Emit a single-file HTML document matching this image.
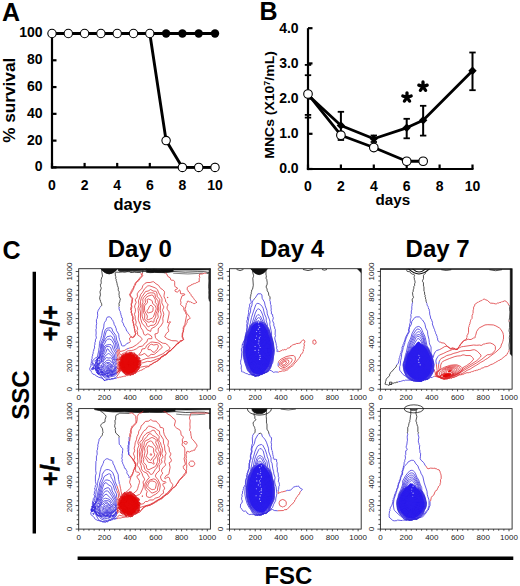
<!DOCTYPE html>
<html><head><meta charset="utf-8"><style>
html,body{margin:0;padding:0;background:#fff;}
svg{display:block;font-family:"Liberation Sans", sans-serif;}
</style></head><body>
<svg width="520" height="586" viewBox="0 0 520 586">
<text x="2" y="21.3" font-size="25" font-weight="bold">A</text>
<line x1="52.0" y1="33.0" x2="52.0" y2="168.5" stroke="#000" stroke-width="2.2"/>
<line x1="50.9" y1="167.4" x2="215.0" y2="167.4" stroke="#000" stroke-width="2.2"/>
<line x1="52.0" y1="167.40" x2="56.5" y2="167.40" stroke="#000" stroke-width="2.2"/>
<text x="42.6" y="171.30" font-size="14" font-weight="bold" text-anchor="end">0</text>
<line x1="52.0" y1="140.62" x2="56.5" y2="140.62" stroke="#000" stroke-width="2.2"/>
<text x="42.6" y="144.52" font-size="14" font-weight="bold" text-anchor="end">20</text>
<line x1="52.0" y1="113.84" x2="56.5" y2="113.84" stroke="#000" stroke-width="2.2"/>
<text x="42.6" y="117.74" font-size="14" font-weight="bold" text-anchor="end">40</text>
<line x1="52.0" y1="87.06" x2="56.5" y2="87.06" stroke="#000" stroke-width="2.2"/>
<text x="42.6" y="90.96" font-size="14" font-weight="bold" text-anchor="end">60</text>
<line x1="52.0" y1="60.28" x2="56.5" y2="60.28" stroke="#000" stroke-width="2.2"/>
<text x="42.6" y="64.18" font-size="14" font-weight="bold" text-anchor="end">80</text>
<line x1="52.0" y1="33.50" x2="56.5" y2="33.50" stroke="#000" stroke-width="2.2"/>
<text x="42.6" y="37.40" font-size="14" font-weight="bold" text-anchor="end">100</text>
<line x1="52.00" y1="167.4" x2="52.00" y2="162.9" stroke="#000" stroke-width="2.2"/>
<text x="52.00" y="190.3" font-size="14" font-weight="bold" text-anchor="middle">0</text>
<line x1="84.60" y1="167.4" x2="84.60" y2="162.9" stroke="#000" stroke-width="2.2"/>
<text x="84.60" y="190.3" font-size="14" font-weight="bold" text-anchor="middle">2</text>
<line x1="117.20" y1="167.4" x2="117.20" y2="162.9" stroke="#000" stroke-width="2.2"/>
<text x="117.20" y="190.3" font-size="14" font-weight="bold" text-anchor="middle">4</text>
<line x1="149.80" y1="167.4" x2="149.80" y2="162.9" stroke="#000" stroke-width="2.2"/>
<text x="149.80" y="190.3" font-size="14" font-weight="bold" text-anchor="middle">6</text>
<line x1="182.40" y1="167.4" x2="182.40" y2="162.9" stroke="#000" stroke-width="2.2"/>
<text x="182.40" y="190.3" font-size="14" font-weight="bold" text-anchor="middle">8</text>
<line x1="215.00" y1="167.4" x2="215.00" y2="162.9" stroke="#000" stroke-width="2.2"/>
<text x="215.00" y="190.3" font-size="14" font-weight="bold" text-anchor="middle">10</text>
<text x="132.3" y="210" font-size="16.5" font-weight="bold" text-anchor="middle">days</text>
<text transform="translate(15.2,100.3) rotate(-90)" font-size="17.2" font-weight="bold" text-anchor="middle">% survival</text>
<polyline points="52.0,33.5 215.0,33.5" fill="none" stroke="#000" stroke-width="2.9"/>
<polyline points="149.8,33.5 166.10000000000002,140.62 182.4,167.4 215.0,167.4" fill="none" stroke="#000" stroke-width="2.9" stroke-linejoin="round"/>
<circle cx="166.10" cy="33.50" r="4.2" fill="#000"/>
<circle cx="182.40" cy="33.50" r="4.2" fill="#000"/>
<circle cx="198.70" cy="33.50" r="4.2" fill="#000"/>
<circle cx="215.00" cy="33.50" r="4.2" fill="#000"/>
<circle cx="52.00" cy="33.50" r="4.2" fill="#fff" stroke="#000" stroke-width="1.1"/>
<circle cx="68.30" cy="33.50" r="4.2" fill="#fff" stroke="#000" stroke-width="1.1"/>
<circle cx="84.60" cy="33.50" r="4.2" fill="#fff" stroke="#000" stroke-width="1.1"/>
<circle cx="100.90" cy="33.50" r="4.2" fill="#fff" stroke="#000" stroke-width="1.1"/>
<circle cx="117.20" cy="33.50" r="4.2" fill="#fff" stroke="#000" stroke-width="1.1"/>
<circle cx="133.50" cy="33.50" r="4.2" fill="#fff" stroke="#000" stroke-width="1.1"/>
<circle cx="149.80" cy="33.50" r="4.2" fill="#fff" stroke="#000" stroke-width="1.1"/>
<circle cx="166.10" cy="140.62" r="4.2" fill="#fff" stroke="#000" stroke-width="1.1"/>
<circle cx="182.40" cy="167.40" r="4.2" fill="#fff" stroke="#000" stroke-width="1.1"/>
<circle cx="198.70" cy="167.40" r="4.2" fill="#fff" stroke="#000" stroke-width="1.1"/>
<circle cx="215.00" cy="167.40" r="4.2" fill="#fff" stroke="#000" stroke-width="1.1"/>
<text x="259.5" y="19.8" font-size="25" font-weight="bold">B</text>
<line x1="308.0" y1="28.19999999999999" x2="308.0" y2="170.1" stroke="#000" stroke-width="2.2"/>
<line x1="306.9" y1="169.0" x2="473.5" y2="169.0" stroke="#000" stroke-width="2.2"/>
<line x1="308.0" y1="169.00" x2="312.5" y2="169.00" stroke="#000" stroke-width="2.2"/>
<text x="298.6" y="173.30" font-size="14" font-weight="bold" text-anchor="end">0.0</text>
<line x1="308.0" y1="133.80" x2="312.5" y2="133.80" stroke="#000" stroke-width="2.2"/>
<text x="298.6" y="138.10" font-size="14" font-weight="bold" text-anchor="end">1.0</text>
<line x1="308.0" y1="98.60" x2="312.5" y2="98.60" stroke="#000" stroke-width="2.2"/>
<text x="298.6" y="102.90" font-size="14" font-weight="bold" text-anchor="end">2.0</text>
<line x1="308.0" y1="63.40" x2="312.5" y2="63.40" stroke="#000" stroke-width="2.2"/>
<text x="298.6" y="67.70" font-size="14" font-weight="bold" text-anchor="end">3.0</text>
<line x1="308.0" y1="28.20" x2="312.5" y2="28.20" stroke="#000" stroke-width="2.2"/>
<text x="298.6" y="32.50" font-size="14" font-weight="bold" text-anchor="end">4.0</text>
<line x1="308.00" y1="169.0" x2="308.00" y2="164.5" stroke="#000" stroke-width="2.2"/>
<text x="308.00" y="191.3" font-size="14" font-weight="bold" text-anchor="middle">0</text>
<line x1="340.90" y1="169.0" x2="340.90" y2="164.5" stroke="#000" stroke-width="2.2"/>
<text x="340.90" y="191.3" font-size="14" font-weight="bold" text-anchor="middle">2</text>
<line x1="373.80" y1="169.0" x2="373.80" y2="164.5" stroke="#000" stroke-width="2.2"/>
<text x="373.80" y="191.3" font-size="14" font-weight="bold" text-anchor="middle">4</text>
<line x1="406.70" y1="169.0" x2="406.70" y2="164.5" stroke="#000" stroke-width="2.2"/>
<text x="406.70" y="191.3" font-size="14" font-weight="bold" text-anchor="middle">6</text>
<line x1="439.60" y1="169.0" x2="439.60" y2="164.5" stroke="#000" stroke-width="2.2"/>
<text x="439.60" y="191.3" font-size="14" font-weight="bold" text-anchor="middle">8</text>
<line x1="472.50" y1="169.0" x2="472.50" y2="164.5" stroke="#000" stroke-width="2.2"/>
<text x="472.50" y="191.3" font-size="14" font-weight="bold" text-anchor="middle">10</text>
<text x="392.8" y="204.8" font-size="15.2" font-weight="bold" text-anchor="middle">days</text>
<text transform="translate(274.3,104.9) rotate(-90)" font-size="13.3" font-weight="bold" text-anchor="middle" textLength="107.5" lengthAdjust="spacingAndGlyphs">MNCs (X10<tspan dy="-4.5" font-size="8.5">7</tspan><tspan dy="4.5">/mL)</tspan></text>
<line x1="308.00" y1="64.9" x2="308.00" y2="117.6" stroke="#000" stroke-width="2"/>
<line x1="304.80" y1="64.9" x2="311.20" y2="64.9" stroke="#000" stroke-width="1.8"/>
<line x1="304.80" y1="117.6" x2="311.20" y2="117.6" stroke="#000" stroke-width="1.8"/>
<line x1="308.00" y1="75.2" x2="308.00" y2="114.9" stroke="#000" stroke-width="2"/>
<line x1="304.80" y1="75.2" x2="311.20" y2="75.2" stroke="#000" stroke-width="1.8"/>
<line x1="304.80" y1="114.9" x2="311.20" y2="114.9" stroke="#000" stroke-width="1.8"/>
<line x1="340.90" y1="111.8" x2="340.90" y2="140" stroke="#000" stroke-width="2"/>
<line x1="337.70" y1="111.8" x2="344.10" y2="111.8" stroke="#000" stroke-width="1.8"/>
<line x1="337.70" y1="140" x2="344.10" y2="140" stroke="#000" stroke-width="1.8"/>
<line x1="373.80" y1="135.5" x2="373.80" y2="142" stroke="#000" stroke-width="2"/>
<line x1="370.60" y1="135.5" x2="377.00" y2="135.5" stroke="#000" stroke-width="1.8"/>
<line x1="370.60" y1="142" x2="377.00" y2="142" stroke="#000" stroke-width="1.8"/>
<line x1="406.70" y1="118.8" x2="406.70" y2="138.3" stroke="#000" stroke-width="2"/>
<line x1="403.50" y1="118.8" x2="409.90" y2="118.8" stroke="#000" stroke-width="1.8"/>
<line x1="403.50" y1="138.3" x2="409.90" y2="138.3" stroke="#000" stroke-width="1.8"/>
<line x1="423.15" y1="105.8" x2="423.15" y2="135.6" stroke="#000" stroke-width="2"/>
<line x1="419.95" y1="105.8" x2="426.35" y2="105.8" stroke="#000" stroke-width="1.8"/>
<line x1="419.95" y1="135.6" x2="426.35" y2="135.6" stroke="#000" stroke-width="1.8"/>
<line x1="472.50" y1="52.5" x2="472.50" y2="90.2" stroke="#000" stroke-width="2"/>
<line x1="469.30" y1="52.5" x2="475.70" y2="52.5" stroke="#000" stroke-width="1.8"/>
<line x1="469.30" y1="90.2" x2="475.70" y2="90.2" stroke="#000" stroke-width="1.8"/>
<polyline points="308.00,95.08 340.90,125.49 373.80,138.73 406.70,127.82 423.15,120.21 472.50,70.79" fill="none" stroke="#000" stroke-width="2.8" stroke-linejoin="round"/>
<polyline points="308.00,94.02 340.90,135.21 373.80,147.53 406.70,161.26 423.15,161.26" fill="none" stroke="#000" stroke-width="2.8" stroke-linejoin="round"/>
<polygon points="308.00,90.88 312.20,95.08 308.00,99.28 303.80,95.08" fill="#000"/>
<polygon points="340.90,121.29 345.10,125.49 340.90,129.69 336.70,125.49" fill="#000"/>
<polygon points="373.80,134.53 378.00,138.73 373.80,142.93 369.60,138.73" fill="#000"/>
<polygon points="406.70,123.62 410.90,127.82 406.70,132.02 402.50,127.82" fill="#000"/>
<polygon points="423.15,116.01 427.35,120.21 423.15,124.41 418.95,120.21" fill="#000"/>
<polygon points="472.50,66.59 476.70,70.79 472.50,74.99 468.30,70.79" fill="#000"/>
<circle cx="308.00" cy="94.02" r="4.3" fill="#fff" stroke="#000" stroke-width="1.1"/>
<circle cx="340.90" cy="135.21" r="4.3" fill="#fff" stroke="#000" stroke-width="1.1"/>
<circle cx="373.80" cy="147.53" r="4.3" fill="#fff" stroke="#000" stroke-width="1.1"/>
<circle cx="406.70" cy="161.26" r="4.3" fill="#fff" stroke="#000" stroke-width="1.1"/>
<circle cx="423.15" cy="161.26" r="4.3" fill="#fff" stroke="#000" stroke-width="1.1"/>
<path d="M407.00 97.40L407.00 92.80 M407.00 97.40L411.18 95.98 M407.00 97.40L409.59 101.12 M407.00 97.40L404.41 101.12 M407.00 97.40L402.82 95.98" stroke="#000" stroke-width="3.3" stroke-linecap="round"/>
<path d="M423.00 86.60L423.00 82.00 M423.00 86.60L427.18 85.18 M423.00 86.60L425.59 90.32 M423.00 86.60L420.41 90.32 M423.00 86.60L418.82 85.18" stroke="#000" stroke-width="3.3" stroke-linecap="round"/>
<text x="2.6" y="258.6" font-size="25" font-weight="bold">C</text>
<text x="139.8" y="257.0" font-size="24" font-weight="bold" text-anchor="middle">Day 0</text>
<text x="292.0" y="257.0" font-size="24" font-weight="bold" text-anchor="middle">Day 4</text>
<text x="437.6" y="257.0" font-size="24" font-weight="bold" text-anchor="middle">Day 7</text>
<line x1="34.3" y1="271.8" x2="34.3" y2="533.5" stroke="#000" stroke-width="3.4"/>
<line x1="77.6" y1="558.3" x2="513.3" y2="558.3" stroke="#000" stroke-width="3.6"/>
<text x="288.4" y="583.7" font-size="24" font-weight="bold" text-anchor="middle">FSC</text>
<text transform="translate(29.2,395) rotate(-90)" font-size="24" font-weight="bold" text-anchor="middle">SSC</text>
<text transform="translate(59.2,323.1) rotate(-90)" font-size="25" font-weight="bold" text-anchor="middle" stroke="#000" stroke-width="0.5">+/+</text>
<text transform="translate(59.0,471) rotate(-90)" font-size="25" font-weight="bold" text-anchor="middle" stroke="#000" stroke-width="0.5">+/-</text>
<rect x="78.7" y="268.7" width="131.7" height="120.5" fill="none" stroke="#222" stroke-width="0.9"/>
<line x1="78.70" y1="389.2" x2="78.70" y2="391.4" stroke="#222" stroke-width="0.8"/>
<line x1="83.84" y1="389.2" x2="83.84" y2="390.8" stroke="#222" stroke-width="0.8"/>
<line x1="88.99" y1="389.2" x2="88.99" y2="390.8" stroke="#222" stroke-width="0.8"/>
<line x1="94.13" y1="389.2" x2="94.13" y2="390.8" stroke="#222" stroke-width="0.8"/>
<line x1="99.28" y1="389.2" x2="99.28" y2="390.8" stroke="#222" stroke-width="0.8"/>
<line x1="104.42" y1="389.2" x2="104.42" y2="391.4" stroke="#222" stroke-width="0.8"/>
<line x1="109.57" y1="389.2" x2="109.57" y2="390.8" stroke="#222" stroke-width="0.8"/>
<line x1="114.71" y1="389.2" x2="114.71" y2="390.8" stroke="#222" stroke-width="0.8"/>
<line x1="119.86" y1="389.2" x2="119.86" y2="390.8" stroke="#222" stroke-width="0.8"/>
<line x1="125.00" y1="389.2" x2="125.00" y2="390.8" stroke="#222" stroke-width="0.8"/>
<line x1="130.15" y1="389.2" x2="130.15" y2="391.4" stroke="#222" stroke-width="0.8"/>
<line x1="135.29" y1="389.2" x2="135.29" y2="390.8" stroke="#222" stroke-width="0.8"/>
<line x1="140.43" y1="389.2" x2="140.43" y2="390.8" stroke="#222" stroke-width="0.8"/>
<line x1="145.58" y1="389.2" x2="145.58" y2="390.8" stroke="#222" stroke-width="0.8"/>
<line x1="150.72" y1="389.2" x2="150.72" y2="390.8" stroke="#222" stroke-width="0.8"/>
<line x1="155.87" y1="389.2" x2="155.87" y2="391.4" stroke="#222" stroke-width="0.8"/>
<line x1="161.01" y1="389.2" x2="161.01" y2="390.8" stroke="#222" stroke-width="0.8"/>
<line x1="166.16" y1="389.2" x2="166.16" y2="390.8" stroke="#222" stroke-width="0.8"/>
<line x1="171.30" y1="389.2" x2="171.30" y2="390.8" stroke="#222" stroke-width="0.8"/>
<line x1="176.45" y1="389.2" x2="176.45" y2="390.8" stroke="#222" stroke-width="0.8"/>
<line x1="181.59" y1="389.2" x2="181.59" y2="391.4" stroke="#222" stroke-width="0.8"/>
<line x1="186.74" y1="389.2" x2="186.74" y2="390.8" stroke="#222" stroke-width="0.8"/>
<line x1="191.88" y1="389.2" x2="191.88" y2="390.8" stroke="#222" stroke-width="0.8"/>
<line x1="197.02" y1="389.2" x2="197.02" y2="390.8" stroke="#222" stroke-width="0.8"/>
<line x1="202.17" y1="389.2" x2="202.17" y2="390.8" stroke="#222" stroke-width="0.8"/>
<line x1="207.31" y1="389.2" x2="207.31" y2="391.4" stroke="#222" stroke-width="0.8"/>
<line x1="78.7" y1="389.20" x2="75.7" y2="389.20" stroke="#222" stroke-width="0.8"/>
<line x1="78.7" y1="384.49" x2="76.7" y2="384.49" stroke="#222" stroke-width="0.8"/>
<line x1="78.7" y1="379.79" x2="76.7" y2="379.79" stroke="#222" stroke-width="0.8"/>
<line x1="78.7" y1="375.08" x2="76.7" y2="375.08" stroke="#222" stroke-width="0.8"/>
<line x1="78.7" y1="370.37" x2="76.7" y2="370.37" stroke="#222" stroke-width="0.8"/>
<line x1="78.7" y1="365.66" x2="75.7" y2="365.66" stroke="#222" stroke-width="0.8"/>
<line x1="78.7" y1="360.96" x2="76.7" y2="360.96" stroke="#222" stroke-width="0.8"/>
<line x1="78.7" y1="356.25" x2="76.7" y2="356.25" stroke="#222" stroke-width="0.8"/>
<line x1="78.7" y1="351.54" x2="76.7" y2="351.54" stroke="#222" stroke-width="0.8"/>
<line x1="78.7" y1="346.84" x2="76.7" y2="346.84" stroke="#222" stroke-width="0.8"/>
<line x1="78.7" y1="342.13" x2="75.7" y2="342.13" stroke="#222" stroke-width="0.8"/>
<line x1="78.7" y1="337.42" x2="76.7" y2="337.42" stroke="#222" stroke-width="0.8"/>
<line x1="78.7" y1="332.72" x2="76.7" y2="332.72" stroke="#222" stroke-width="0.8"/>
<line x1="78.7" y1="328.01" x2="76.7" y2="328.01" stroke="#222" stroke-width="0.8"/>
<line x1="78.7" y1="323.30" x2="76.7" y2="323.30" stroke="#222" stroke-width="0.8"/>
<line x1="78.7" y1="318.59" x2="75.7" y2="318.59" stroke="#222" stroke-width="0.8"/>
<line x1="78.7" y1="313.89" x2="76.7" y2="313.89" stroke="#222" stroke-width="0.8"/>
<line x1="78.7" y1="309.18" x2="76.7" y2="309.18" stroke="#222" stroke-width="0.8"/>
<line x1="78.7" y1="304.47" x2="76.7" y2="304.47" stroke="#222" stroke-width="0.8"/>
<line x1="78.7" y1="299.77" x2="76.7" y2="299.77" stroke="#222" stroke-width="0.8"/>
<line x1="78.7" y1="295.06" x2="75.7" y2="295.06" stroke="#222" stroke-width="0.8"/>
<line x1="78.7" y1="290.35" x2="76.7" y2="290.35" stroke="#222" stroke-width="0.8"/>
<line x1="78.7" y1="285.65" x2="76.7" y2="285.65" stroke="#222" stroke-width="0.8"/>
<line x1="78.7" y1="280.94" x2="76.7" y2="280.94" stroke="#222" stroke-width="0.8"/>
<line x1="78.7" y1="276.23" x2="76.7" y2="276.23" stroke="#222" stroke-width="0.8"/>
<line x1="78.7" y1="271.52" x2="75.7" y2="271.52" stroke="#222" stroke-width="0.8"/>
<text x="78.70" y="400.40" font-size="8" fill="#222" text-anchor="middle">0</text>
<text transform="translate(71.90,389.20) rotate(-90)" font-size="8" fill="#222" text-anchor="middle">0</text>
<text x="104.42" y="400.40" font-size="8" fill="#222" text-anchor="middle">200</text>
<text transform="translate(71.90,365.66) rotate(-90)" font-size="8" fill="#222" text-anchor="middle">200</text>
<text x="130.15" y="400.40" font-size="8" fill="#222" text-anchor="middle">400</text>
<text transform="translate(71.90,342.13) rotate(-90)" font-size="8" fill="#222" text-anchor="middle">400</text>
<text x="155.87" y="400.40" font-size="8" fill="#222" text-anchor="middle">600</text>
<text transform="translate(71.90,318.59) rotate(-90)" font-size="8" fill="#222" text-anchor="middle">600</text>
<text x="181.59" y="400.40" font-size="8" fill="#222" text-anchor="middle">800</text>
<text transform="translate(71.90,295.06) rotate(-90)" font-size="8" fill="#222" text-anchor="middle">800</text>
<text x="207.31" y="400.40" font-size="8" fill="#222" text-anchor="middle">1000</text>
<text transform="translate(71.90,271.52) rotate(-90)" font-size="8" fill="#222" text-anchor="middle">1000</text>
<rect x="229.5" y="268.7" width="131.7" height="120.5" fill="none" stroke="#222" stroke-width="0.9"/>
<line x1="229.50" y1="389.2" x2="229.50" y2="391.4" stroke="#222" stroke-width="0.8"/>
<line x1="234.64" y1="389.2" x2="234.64" y2="390.8" stroke="#222" stroke-width="0.8"/>
<line x1="239.79" y1="389.2" x2="239.79" y2="390.8" stroke="#222" stroke-width="0.8"/>
<line x1="244.93" y1="389.2" x2="244.93" y2="390.8" stroke="#222" stroke-width="0.8"/>
<line x1="250.08" y1="389.2" x2="250.08" y2="390.8" stroke="#222" stroke-width="0.8"/>
<line x1="255.22" y1="389.2" x2="255.22" y2="391.4" stroke="#222" stroke-width="0.8"/>
<line x1="260.37" y1="389.2" x2="260.37" y2="390.8" stroke="#222" stroke-width="0.8"/>
<line x1="265.51" y1="389.2" x2="265.51" y2="390.8" stroke="#222" stroke-width="0.8"/>
<line x1="270.66" y1="389.2" x2="270.66" y2="390.8" stroke="#222" stroke-width="0.8"/>
<line x1="275.80" y1="389.2" x2="275.80" y2="390.8" stroke="#222" stroke-width="0.8"/>
<line x1="280.95" y1="389.2" x2="280.95" y2="391.4" stroke="#222" stroke-width="0.8"/>
<line x1="286.09" y1="389.2" x2="286.09" y2="390.8" stroke="#222" stroke-width="0.8"/>
<line x1="291.23" y1="389.2" x2="291.23" y2="390.8" stroke="#222" stroke-width="0.8"/>
<line x1="296.38" y1="389.2" x2="296.38" y2="390.8" stroke="#222" stroke-width="0.8"/>
<line x1="301.52" y1="389.2" x2="301.52" y2="390.8" stroke="#222" stroke-width="0.8"/>
<line x1="306.67" y1="389.2" x2="306.67" y2="391.4" stroke="#222" stroke-width="0.8"/>
<line x1="311.81" y1="389.2" x2="311.81" y2="390.8" stroke="#222" stroke-width="0.8"/>
<line x1="316.96" y1="389.2" x2="316.96" y2="390.8" stroke="#222" stroke-width="0.8"/>
<line x1="322.10" y1="389.2" x2="322.10" y2="390.8" stroke="#222" stroke-width="0.8"/>
<line x1="327.25" y1="389.2" x2="327.25" y2="390.8" stroke="#222" stroke-width="0.8"/>
<line x1="332.39" y1="389.2" x2="332.39" y2="391.4" stroke="#222" stroke-width="0.8"/>
<line x1="337.54" y1="389.2" x2="337.54" y2="390.8" stroke="#222" stroke-width="0.8"/>
<line x1="342.68" y1="389.2" x2="342.68" y2="390.8" stroke="#222" stroke-width="0.8"/>
<line x1="347.82" y1="389.2" x2="347.82" y2="390.8" stroke="#222" stroke-width="0.8"/>
<line x1="352.97" y1="389.2" x2="352.97" y2="390.8" stroke="#222" stroke-width="0.8"/>
<line x1="358.11" y1="389.2" x2="358.11" y2="391.4" stroke="#222" stroke-width="0.8"/>
<line x1="229.5" y1="389.20" x2="226.5" y2="389.20" stroke="#222" stroke-width="0.8"/>
<line x1="229.5" y1="384.49" x2="227.5" y2="384.49" stroke="#222" stroke-width="0.8"/>
<line x1="229.5" y1="379.79" x2="227.5" y2="379.79" stroke="#222" stroke-width="0.8"/>
<line x1="229.5" y1="375.08" x2="227.5" y2="375.08" stroke="#222" stroke-width="0.8"/>
<line x1="229.5" y1="370.37" x2="227.5" y2="370.37" stroke="#222" stroke-width="0.8"/>
<line x1="229.5" y1="365.66" x2="226.5" y2="365.66" stroke="#222" stroke-width="0.8"/>
<line x1="229.5" y1="360.96" x2="227.5" y2="360.96" stroke="#222" stroke-width="0.8"/>
<line x1="229.5" y1="356.25" x2="227.5" y2="356.25" stroke="#222" stroke-width="0.8"/>
<line x1="229.5" y1="351.54" x2="227.5" y2="351.54" stroke="#222" stroke-width="0.8"/>
<line x1="229.5" y1="346.84" x2="227.5" y2="346.84" stroke="#222" stroke-width="0.8"/>
<line x1="229.5" y1="342.13" x2="226.5" y2="342.13" stroke="#222" stroke-width="0.8"/>
<line x1="229.5" y1="337.42" x2="227.5" y2="337.42" stroke="#222" stroke-width="0.8"/>
<line x1="229.5" y1="332.72" x2="227.5" y2="332.72" stroke="#222" stroke-width="0.8"/>
<line x1="229.5" y1="328.01" x2="227.5" y2="328.01" stroke="#222" stroke-width="0.8"/>
<line x1="229.5" y1="323.30" x2="227.5" y2="323.30" stroke="#222" stroke-width="0.8"/>
<line x1="229.5" y1="318.59" x2="226.5" y2="318.59" stroke="#222" stroke-width="0.8"/>
<line x1="229.5" y1="313.89" x2="227.5" y2="313.89" stroke="#222" stroke-width="0.8"/>
<line x1="229.5" y1="309.18" x2="227.5" y2="309.18" stroke="#222" stroke-width="0.8"/>
<line x1="229.5" y1="304.47" x2="227.5" y2="304.47" stroke="#222" stroke-width="0.8"/>
<line x1="229.5" y1="299.77" x2="227.5" y2="299.77" stroke="#222" stroke-width="0.8"/>
<line x1="229.5" y1="295.06" x2="226.5" y2="295.06" stroke="#222" stroke-width="0.8"/>
<line x1="229.5" y1="290.35" x2="227.5" y2="290.35" stroke="#222" stroke-width="0.8"/>
<line x1="229.5" y1="285.65" x2="227.5" y2="285.65" stroke="#222" stroke-width="0.8"/>
<line x1="229.5" y1="280.94" x2="227.5" y2="280.94" stroke="#222" stroke-width="0.8"/>
<line x1="229.5" y1="276.23" x2="227.5" y2="276.23" stroke="#222" stroke-width="0.8"/>
<line x1="229.5" y1="271.52" x2="226.5" y2="271.52" stroke="#222" stroke-width="0.8"/>
<text x="229.50" y="400.40" font-size="8" fill="#222" text-anchor="middle">0</text>
<text transform="translate(222.70,389.20) rotate(-90)" font-size="8" fill="#222" text-anchor="middle">0</text>
<text x="255.22" y="400.40" font-size="8" fill="#222" text-anchor="middle">200</text>
<text transform="translate(222.70,365.66) rotate(-90)" font-size="8" fill="#222" text-anchor="middle">200</text>
<text x="280.95" y="400.40" font-size="8" fill="#222" text-anchor="middle">400</text>
<text transform="translate(222.70,342.13) rotate(-90)" font-size="8" fill="#222" text-anchor="middle">400</text>
<text x="306.67" y="400.40" font-size="8" fill="#222" text-anchor="middle">600</text>
<text transform="translate(222.70,318.59) rotate(-90)" font-size="8" fill="#222" text-anchor="middle">600</text>
<text x="332.39" y="400.40" font-size="8" fill="#222" text-anchor="middle">800</text>
<text transform="translate(222.70,295.06) rotate(-90)" font-size="8" fill="#222" text-anchor="middle">800</text>
<text x="358.11" y="400.40" font-size="8" fill="#222" text-anchor="middle">1000</text>
<text transform="translate(222.70,271.52) rotate(-90)" font-size="8" fill="#222" text-anchor="middle">1000</text>
<rect x="380.4" y="268.7" width="131.7" height="120.5" fill="none" stroke="#222" stroke-width="0.9"/>
<line x1="380.40" y1="389.2" x2="380.40" y2="391.4" stroke="#222" stroke-width="0.8"/>
<line x1="385.54" y1="389.2" x2="385.54" y2="390.8" stroke="#222" stroke-width="0.8"/>
<line x1="390.69" y1="389.2" x2="390.69" y2="390.8" stroke="#222" stroke-width="0.8"/>
<line x1="395.83" y1="389.2" x2="395.83" y2="390.8" stroke="#222" stroke-width="0.8"/>
<line x1="400.98" y1="389.2" x2="400.98" y2="390.8" stroke="#222" stroke-width="0.8"/>
<line x1="406.12" y1="389.2" x2="406.12" y2="391.4" stroke="#222" stroke-width="0.8"/>
<line x1="411.27" y1="389.2" x2="411.27" y2="390.8" stroke="#222" stroke-width="0.8"/>
<line x1="416.41" y1="389.2" x2="416.41" y2="390.8" stroke="#222" stroke-width="0.8"/>
<line x1="421.56" y1="389.2" x2="421.56" y2="390.8" stroke="#222" stroke-width="0.8"/>
<line x1="426.70" y1="389.2" x2="426.70" y2="390.8" stroke="#222" stroke-width="0.8"/>
<line x1="431.85" y1="389.2" x2="431.85" y2="391.4" stroke="#222" stroke-width="0.8"/>
<line x1="436.99" y1="389.2" x2="436.99" y2="390.8" stroke="#222" stroke-width="0.8"/>
<line x1="442.13" y1="389.2" x2="442.13" y2="390.8" stroke="#222" stroke-width="0.8"/>
<line x1="447.28" y1="389.2" x2="447.28" y2="390.8" stroke="#222" stroke-width="0.8"/>
<line x1="452.42" y1="389.2" x2="452.42" y2="390.8" stroke="#222" stroke-width="0.8"/>
<line x1="457.57" y1="389.2" x2="457.57" y2="391.4" stroke="#222" stroke-width="0.8"/>
<line x1="462.71" y1="389.2" x2="462.71" y2="390.8" stroke="#222" stroke-width="0.8"/>
<line x1="467.86" y1="389.2" x2="467.86" y2="390.8" stroke="#222" stroke-width="0.8"/>
<line x1="473.00" y1="389.2" x2="473.00" y2="390.8" stroke="#222" stroke-width="0.8"/>
<line x1="478.15" y1="389.2" x2="478.15" y2="390.8" stroke="#222" stroke-width="0.8"/>
<line x1="483.29" y1="389.2" x2="483.29" y2="391.4" stroke="#222" stroke-width="0.8"/>
<line x1="488.44" y1="389.2" x2="488.44" y2="390.8" stroke="#222" stroke-width="0.8"/>
<line x1="493.58" y1="389.2" x2="493.58" y2="390.8" stroke="#222" stroke-width="0.8"/>
<line x1="498.72" y1="389.2" x2="498.72" y2="390.8" stroke="#222" stroke-width="0.8"/>
<line x1="503.87" y1="389.2" x2="503.87" y2="390.8" stroke="#222" stroke-width="0.8"/>
<line x1="509.01" y1="389.2" x2="509.01" y2="391.4" stroke="#222" stroke-width="0.8"/>
<line x1="380.4" y1="389.20" x2="377.4" y2="389.20" stroke="#222" stroke-width="0.8"/>
<line x1="380.4" y1="384.49" x2="378.4" y2="384.49" stroke="#222" stroke-width="0.8"/>
<line x1="380.4" y1="379.79" x2="378.4" y2="379.79" stroke="#222" stroke-width="0.8"/>
<line x1="380.4" y1="375.08" x2="378.4" y2="375.08" stroke="#222" stroke-width="0.8"/>
<line x1="380.4" y1="370.37" x2="378.4" y2="370.37" stroke="#222" stroke-width="0.8"/>
<line x1="380.4" y1="365.66" x2="377.4" y2="365.66" stroke="#222" stroke-width="0.8"/>
<line x1="380.4" y1="360.96" x2="378.4" y2="360.96" stroke="#222" stroke-width="0.8"/>
<line x1="380.4" y1="356.25" x2="378.4" y2="356.25" stroke="#222" stroke-width="0.8"/>
<line x1="380.4" y1="351.54" x2="378.4" y2="351.54" stroke="#222" stroke-width="0.8"/>
<line x1="380.4" y1="346.84" x2="378.4" y2="346.84" stroke="#222" stroke-width="0.8"/>
<line x1="380.4" y1="342.13" x2="377.4" y2="342.13" stroke="#222" stroke-width="0.8"/>
<line x1="380.4" y1="337.42" x2="378.4" y2="337.42" stroke="#222" stroke-width="0.8"/>
<line x1="380.4" y1="332.72" x2="378.4" y2="332.72" stroke="#222" stroke-width="0.8"/>
<line x1="380.4" y1="328.01" x2="378.4" y2="328.01" stroke="#222" stroke-width="0.8"/>
<line x1="380.4" y1="323.30" x2="378.4" y2="323.30" stroke="#222" stroke-width="0.8"/>
<line x1="380.4" y1="318.59" x2="377.4" y2="318.59" stroke="#222" stroke-width="0.8"/>
<line x1="380.4" y1="313.89" x2="378.4" y2="313.89" stroke="#222" stroke-width="0.8"/>
<line x1="380.4" y1="309.18" x2="378.4" y2="309.18" stroke="#222" stroke-width="0.8"/>
<line x1="380.4" y1="304.47" x2="378.4" y2="304.47" stroke="#222" stroke-width="0.8"/>
<line x1="380.4" y1="299.77" x2="378.4" y2="299.77" stroke="#222" stroke-width="0.8"/>
<line x1="380.4" y1="295.06" x2="377.4" y2="295.06" stroke="#222" stroke-width="0.8"/>
<line x1="380.4" y1="290.35" x2="378.4" y2="290.35" stroke="#222" stroke-width="0.8"/>
<line x1="380.4" y1="285.65" x2="378.4" y2="285.65" stroke="#222" stroke-width="0.8"/>
<line x1="380.4" y1="280.94" x2="378.4" y2="280.94" stroke="#222" stroke-width="0.8"/>
<line x1="380.4" y1="276.23" x2="378.4" y2="276.23" stroke="#222" stroke-width="0.8"/>
<line x1="380.4" y1="271.52" x2="377.4" y2="271.52" stroke="#222" stroke-width="0.8"/>
<text x="380.40" y="400.40" font-size="8" fill="#222" text-anchor="middle">0</text>
<text transform="translate(373.60,389.20) rotate(-90)" font-size="8" fill="#222" text-anchor="middle">0</text>
<text x="406.12" y="400.40" font-size="8" fill="#222" text-anchor="middle">200</text>
<text transform="translate(373.60,365.66) rotate(-90)" font-size="8" fill="#222" text-anchor="middle">200</text>
<text x="431.85" y="400.40" font-size="8" fill="#222" text-anchor="middle">400</text>
<text transform="translate(373.60,342.13) rotate(-90)" font-size="8" fill="#222" text-anchor="middle">400</text>
<text x="457.57" y="400.40" font-size="8" fill="#222" text-anchor="middle">600</text>
<text transform="translate(373.60,318.59) rotate(-90)" font-size="8" fill="#222" text-anchor="middle">600</text>
<text x="483.29" y="400.40" font-size="8" fill="#222" text-anchor="middle">800</text>
<text transform="translate(373.60,295.06) rotate(-90)" font-size="8" fill="#222" text-anchor="middle">800</text>
<text x="509.01" y="400.40" font-size="8" fill="#222" text-anchor="middle">1000</text>
<text transform="translate(373.60,271.52) rotate(-90)" font-size="8" fill="#222" text-anchor="middle">1000</text>
<rect x="78.7" y="408.6" width="131.7" height="120.5" fill="none" stroke="#222" stroke-width="0.9"/>
<line x1="78.70" y1="529.1" x2="78.70" y2="531.3000000000001" stroke="#222" stroke-width="0.8"/>
<line x1="83.84" y1="529.1" x2="83.84" y2="530.7" stroke="#222" stroke-width="0.8"/>
<line x1="88.99" y1="529.1" x2="88.99" y2="530.7" stroke="#222" stroke-width="0.8"/>
<line x1="94.13" y1="529.1" x2="94.13" y2="530.7" stroke="#222" stroke-width="0.8"/>
<line x1="99.28" y1="529.1" x2="99.28" y2="530.7" stroke="#222" stroke-width="0.8"/>
<line x1="104.42" y1="529.1" x2="104.42" y2="531.3000000000001" stroke="#222" stroke-width="0.8"/>
<line x1="109.57" y1="529.1" x2="109.57" y2="530.7" stroke="#222" stroke-width="0.8"/>
<line x1="114.71" y1="529.1" x2="114.71" y2="530.7" stroke="#222" stroke-width="0.8"/>
<line x1="119.86" y1="529.1" x2="119.86" y2="530.7" stroke="#222" stroke-width="0.8"/>
<line x1="125.00" y1="529.1" x2="125.00" y2="530.7" stroke="#222" stroke-width="0.8"/>
<line x1="130.15" y1="529.1" x2="130.15" y2="531.3000000000001" stroke="#222" stroke-width="0.8"/>
<line x1="135.29" y1="529.1" x2="135.29" y2="530.7" stroke="#222" stroke-width="0.8"/>
<line x1="140.43" y1="529.1" x2="140.43" y2="530.7" stroke="#222" stroke-width="0.8"/>
<line x1="145.58" y1="529.1" x2="145.58" y2="530.7" stroke="#222" stroke-width="0.8"/>
<line x1="150.72" y1="529.1" x2="150.72" y2="530.7" stroke="#222" stroke-width="0.8"/>
<line x1="155.87" y1="529.1" x2="155.87" y2="531.3000000000001" stroke="#222" stroke-width="0.8"/>
<line x1="161.01" y1="529.1" x2="161.01" y2="530.7" stroke="#222" stroke-width="0.8"/>
<line x1="166.16" y1="529.1" x2="166.16" y2="530.7" stroke="#222" stroke-width="0.8"/>
<line x1="171.30" y1="529.1" x2="171.30" y2="530.7" stroke="#222" stroke-width="0.8"/>
<line x1="176.45" y1="529.1" x2="176.45" y2="530.7" stroke="#222" stroke-width="0.8"/>
<line x1="181.59" y1="529.1" x2="181.59" y2="531.3000000000001" stroke="#222" stroke-width="0.8"/>
<line x1="186.74" y1="529.1" x2="186.74" y2="530.7" stroke="#222" stroke-width="0.8"/>
<line x1="191.88" y1="529.1" x2="191.88" y2="530.7" stroke="#222" stroke-width="0.8"/>
<line x1="197.02" y1="529.1" x2="197.02" y2="530.7" stroke="#222" stroke-width="0.8"/>
<line x1="202.17" y1="529.1" x2="202.17" y2="530.7" stroke="#222" stroke-width="0.8"/>
<line x1="207.31" y1="529.1" x2="207.31" y2="531.3000000000001" stroke="#222" stroke-width="0.8"/>
<line x1="78.7" y1="529.10" x2="75.7" y2="529.10" stroke="#222" stroke-width="0.8"/>
<line x1="78.7" y1="524.39" x2="76.7" y2="524.39" stroke="#222" stroke-width="0.8"/>
<line x1="78.7" y1="519.69" x2="76.7" y2="519.69" stroke="#222" stroke-width="0.8"/>
<line x1="78.7" y1="514.98" x2="76.7" y2="514.98" stroke="#222" stroke-width="0.8"/>
<line x1="78.7" y1="510.27" x2="76.7" y2="510.27" stroke="#222" stroke-width="0.8"/>
<line x1="78.7" y1="505.56" x2="75.7" y2="505.56" stroke="#222" stroke-width="0.8"/>
<line x1="78.7" y1="500.86" x2="76.7" y2="500.86" stroke="#222" stroke-width="0.8"/>
<line x1="78.7" y1="496.15" x2="76.7" y2="496.15" stroke="#222" stroke-width="0.8"/>
<line x1="78.7" y1="491.44" x2="76.7" y2="491.44" stroke="#222" stroke-width="0.8"/>
<line x1="78.7" y1="486.74" x2="76.7" y2="486.74" stroke="#222" stroke-width="0.8"/>
<line x1="78.7" y1="482.03" x2="75.7" y2="482.03" stroke="#222" stroke-width="0.8"/>
<line x1="78.7" y1="477.32" x2="76.7" y2="477.32" stroke="#222" stroke-width="0.8"/>
<line x1="78.7" y1="472.62" x2="76.7" y2="472.62" stroke="#222" stroke-width="0.8"/>
<line x1="78.7" y1="467.91" x2="76.7" y2="467.91" stroke="#222" stroke-width="0.8"/>
<line x1="78.7" y1="463.20" x2="76.7" y2="463.20" stroke="#222" stroke-width="0.8"/>
<line x1="78.7" y1="458.49" x2="75.7" y2="458.49" stroke="#222" stroke-width="0.8"/>
<line x1="78.7" y1="453.79" x2="76.7" y2="453.79" stroke="#222" stroke-width="0.8"/>
<line x1="78.7" y1="449.08" x2="76.7" y2="449.08" stroke="#222" stroke-width="0.8"/>
<line x1="78.7" y1="444.37" x2="76.7" y2="444.37" stroke="#222" stroke-width="0.8"/>
<line x1="78.7" y1="439.67" x2="76.7" y2="439.67" stroke="#222" stroke-width="0.8"/>
<line x1="78.7" y1="434.96" x2="75.7" y2="434.96" stroke="#222" stroke-width="0.8"/>
<line x1="78.7" y1="430.25" x2="76.7" y2="430.25" stroke="#222" stroke-width="0.8"/>
<line x1="78.7" y1="425.55" x2="76.7" y2="425.55" stroke="#222" stroke-width="0.8"/>
<line x1="78.7" y1="420.84" x2="76.7" y2="420.84" stroke="#222" stroke-width="0.8"/>
<line x1="78.7" y1="416.13" x2="76.7" y2="416.13" stroke="#222" stroke-width="0.8"/>
<line x1="78.7" y1="411.42" x2="75.7" y2="411.42" stroke="#222" stroke-width="0.8"/>
<text x="78.70" y="540.30" font-size="8" fill="#222" text-anchor="middle">0</text>
<text transform="translate(71.90,529.10) rotate(-90)" font-size="8" fill="#222" text-anchor="middle">0</text>
<text x="104.42" y="540.30" font-size="8" fill="#222" text-anchor="middle">200</text>
<text transform="translate(71.90,505.56) rotate(-90)" font-size="8" fill="#222" text-anchor="middle">200</text>
<text x="130.15" y="540.30" font-size="8" fill="#222" text-anchor="middle">400</text>
<text transform="translate(71.90,482.03) rotate(-90)" font-size="8" fill="#222" text-anchor="middle">400</text>
<text x="155.87" y="540.30" font-size="8" fill="#222" text-anchor="middle">600</text>
<text transform="translate(71.90,458.49) rotate(-90)" font-size="8" fill="#222" text-anchor="middle">600</text>
<text x="181.59" y="540.30" font-size="8" fill="#222" text-anchor="middle">800</text>
<text transform="translate(71.90,434.96) rotate(-90)" font-size="8" fill="#222" text-anchor="middle">800</text>
<text x="207.31" y="540.30" font-size="8" fill="#222" text-anchor="middle">1000</text>
<text transform="translate(71.90,411.42) rotate(-90)" font-size="8" fill="#222" text-anchor="middle">1000</text>
<rect x="229.5" y="408.6" width="131.7" height="120.5" fill="none" stroke="#222" stroke-width="0.9"/>
<line x1="229.50" y1="529.1" x2="229.50" y2="531.3000000000001" stroke="#222" stroke-width="0.8"/>
<line x1="234.64" y1="529.1" x2="234.64" y2="530.7" stroke="#222" stroke-width="0.8"/>
<line x1="239.79" y1="529.1" x2="239.79" y2="530.7" stroke="#222" stroke-width="0.8"/>
<line x1="244.93" y1="529.1" x2="244.93" y2="530.7" stroke="#222" stroke-width="0.8"/>
<line x1="250.08" y1="529.1" x2="250.08" y2="530.7" stroke="#222" stroke-width="0.8"/>
<line x1="255.22" y1="529.1" x2="255.22" y2="531.3000000000001" stroke="#222" stroke-width="0.8"/>
<line x1="260.37" y1="529.1" x2="260.37" y2="530.7" stroke="#222" stroke-width="0.8"/>
<line x1="265.51" y1="529.1" x2="265.51" y2="530.7" stroke="#222" stroke-width="0.8"/>
<line x1="270.66" y1="529.1" x2="270.66" y2="530.7" stroke="#222" stroke-width="0.8"/>
<line x1="275.80" y1="529.1" x2="275.80" y2="530.7" stroke="#222" stroke-width="0.8"/>
<line x1="280.95" y1="529.1" x2="280.95" y2="531.3000000000001" stroke="#222" stroke-width="0.8"/>
<line x1="286.09" y1="529.1" x2="286.09" y2="530.7" stroke="#222" stroke-width="0.8"/>
<line x1="291.23" y1="529.1" x2="291.23" y2="530.7" stroke="#222" stroke-width="0.8"/>
<line x1="296.38" y1="529.1" x2="296.38" y2="530.7" stroke="#222" stroke-width="0.8"/>
<line x1="301.52" y1="529.1" x2="301.52" y2="530.7" stroke="#222" stroke-width="0.8"/>
<line x1="306.67" y1="529.1" x2="306.67" y2="531.3000000000001" stroke="#222" stroke-width="0.8"/>
<line x1="311.81" y1="529.1" x2="311.81" y2="530.7" stroke="#222" stroke-width="0.8"/>
<line x1="316.96" y1="529.1" x2="316.96" y2="530.7" stroke="#222" stroke-width="0.8"/>
<line x1="322.10" y1="529.1" x2="322.10" y2="530.7" stroke="#222" stroke-width="0.8"/>
<line x1="327.25" y1="529.1" x2="327.25" y2="530.7" stroke="#222" stroke-width="0.8"/>
<line x1="332.39" y1="529.1" x2="332.39" y2="531.3000000000001" stroke="#222" stroke-width="0.8"/>
<line x1="337.54" y1="529.1" x2="337.54" y2="530.7" stroke="#222" stroke-width="0.8"/>
<line x1="342.68" y1="529.1" x2="342.68" y2="530.7" stroke="#222" stroke-width="0.8"/>
<line x1="347.82" y1="529.1" x2="347.82" y2="530.7" stroke="#222" stroke-width="0.8"/>
<line x1="352.97" y1="529.1" x2="352.97" y2="530.7" stroke="#222" stroke-width="0.8"/>
<line x1="358.11" y1="529.1" x2="358.11" y2="531.3000000000001" stroke="#222" stroke-width="0.8"/>
<line x1="229.5" y1="529.10" x2="226.5" y2="529.10" stroke="#222" stroke-width="0.8"/>
<line x1="229.5" y1="524.39" x2="227.5" y2="524.39" stroke="#222" stroke-width="0.8"/>
<line x1="229.5" y1="519.69" x2="227.5" y2="519.69" stroke="#222" stroke-width="0.8"/>
<line x1="229.5" y1="514.98" x2="227.5" y2="514.98" stroke="#222" stroke-width="0.8"/>
<line x1="229.5" y1="510.27" x2="227.5" y2="510.27" stroke="#222" stroke-width="0.8"/>
<line x1="229.5" y1="505.56" x2="226.5" y2="505.56" stroke="#222" stroke-width="0.8"/>
<line x1="229.5" y1="500.86" x2="227.5" y2="500.86" stroke="#222" stroke-width="0.8"/>
<line x1="229.5" y1="496.15" x2="227.5" y2="496.15" stroke="#222" stroke-width="0.8"/>
<line x1="229.5" y1="491.44" x2="227.5" y2="491.44" stroke="#222" stroke-width="0.8"/>
<line x1="229.5" y1="486.74" x2="227.5" y2="486.74" stroke="#222" stroke-width="0.8"/>
<line x1="229.5" y1="482.03" x2="226.5" y2="482.03" stroke="#222" stroke-width="0.8"/>
<line x1="229.5" y1="477.32" x2="227.5" y2="477.32" stroke="#222" stroke-width="0.8"/>
<line x1="229.5" y1="472.62" x2="227.5" y2="472.62" stroke="#222" stroke-width="0.8"/>
<line x1="229.5" y1="467.91" x2="227.5" y2="467.91" stroke="#222" stroke-width="0.8"/>
<line x1="229.5" y1="463.20" x2="227.5" y2="463.20" stroke="#222" stroke-width="0.8"/>
<line x1="229.5" y1="458.49" x2="226.5" y2="458.49" stroke="#222" stroke-width="0.8"/>
<line x1="229.5" y1="453.79" x2="227.5" y2="453.79" stroke="#222" stroke-width="0.8"/>
<line x1="229.5" y1="449.08" x2="227.5" y2="449.08" stroke="#222" stroke-width="0.8"/>
<line x1="229.5" y1="444.37" x2="227.5" y2="444.37" stroke="#222" stroke-width="0.8"/>
<line x1="229.5" y1="439.67" x2="227.5" y2="439.67" stroke="#222" stroke-width="0.8"/>
<line x1="229.5" y1="434.96" x2="226.5" y2="434.96" stroke="#222" stroke-width="0.8"/>
<line x1="229.5" y1="430.25" x2="227.5" y2="430.25" stroke="#222" stroke-width="0.8"/>
<line x1="229.5" y1="425.55" x2="227.5" y2="425.55" stroke="#222" stroke-width="0.8"/>
<line x1="229.5" y1="420.84" x2="227.5" y2="420.84" stroke="#222" stroke-width="0.8"/>
<line x1="229.5" y1="416.13" x2="227.5" y2="416.13" stroke="#222" stroke-width="0.8"/>
<line x1="229.5" y1="411.42" x2="226.5" y2="411.42" stroke="#222" stroke-width="0.8"/>
<text x="229.50" y="540.30" font-size="8" fill="#222" text-anchor="middle">0</text>
<text transform="translate(222.70,529.10) rotate(-90)" font-size="8" fill="#222" text-anchor="middle">0</text>
<text x="255.22" y="540.30" font-size="8" fill="#222" text-anchor="middle">200</text>
<text transform="translate(222.70,505.56) rotate(-90)" font-size="8" fill="#222" text-anchor="middle">200</text>
<text x="280.95" y="540.30" font-size="8" fill="#222" text-anchor="middle">400</text>
<text transform="translate(222.70,482.03) rotate(-90)" font-size="8" fill="#222" text-anchor="middle">400</text>
<text x="306.67" y="540.30" font-size="8" fill="#222" text-anchor="middle">600</text>
<text transform="translate(222.70,458.49) rotate(-90)" font-size="8" fill="#222" text-anchor="middle">600</text>
<text x="332.39" y="540.30" font-size="8" fill="#222" text-anchor="middle">800</text>
<text transform="translate(222.70,434.96) rotate(-90)" font-size="8" fill="#222" text-anchor="middle">800</text>
<text x="358.11" y="540.30" font-size="8" fill="#222" text-anchor="middle">1000</text>
<text transform="translate(222.70,411.42) rotate(-90)" font-size="8" fill="#222" text-anchor="middle">1000</text>
<rect x="380.4" y="408.6" width="131.7" height="120.5" fill="none" stroke="#222" stroke-width="0.9"/>
<line x1="380.40" y1="529.1" x2="380.40" y2="531.3000000000001" stroke="#222" stroke-width="0.8"/>
<line x1="385.54" y1="529.1" x2="385.54" y2="530.7" stroke="#222" stroke-width="0.8"/>
<line x1="390.69" y1="529.1" x2="390.69" y2="530.7" stroke="#222" stroke-width="0.8"/>
<line x1="395.83" y1="529.1" x2="395.83" y2="530.7" stroke="#222" stroke-width="0.8"/>
<line x1="400.98" y1="529.1" x2="400.98" y2="530.7" stroke="#222" stroke-width="0.8"/>
<line x1="406.12" y1="529.1" x2="406.12" y2="531.3000000000001" stroke="#222" stroke-width="0.8"/>
<line x1="411.27" y1="529.1" x2="411.27" y2="530.7" stroke="#222" stroke-width="0.8"/>
<line x1="416.41" y1="529.1" x2="416.41" y2="530.7" stroke="#222" stroke-width="0.8"/>
<line x1="421.56" y1="529.1" x2="421.56" y2="530.7" stroke="#222" stroke-width="0.8"/>
<line x1="426.70" y1="529.1" x2="426.70" y2="530.7" stroke="#222" stroke-width="0.8"/>
<line x1="431.85" y1="529.1" x2="431.85" y2="531.3000000000001" stroke="#222" stroke-width="0.8"/>
<line x1="436.99" y1="529.1" x2="436.99" y2="530.7" stroke="#222" stroke-width="0.8"/>
<line x1="442.13" y1="529.1" x2="442.13" y2="530.7" stroke="#222" stroke-width="0.8"/>
<line x1="447.28" y1="529.1" x2="447.28" y2="530.7" stroke="#222" stroke-width="0.8"/>
<line x1="452.42" y1="529.1" x2="452.42" y2="530.7" stroke="#222" stroke-width="0.8"/>
<line x1="457.57" y1="529.1" x2="457.57" y2="531.3000000000001" stroke="#222" stroke-width="0.8"/>
<line x1="462.71" y1="529.1" x2="462.71" y2="530.7" stroke="#222" stroke-width="0.8"/>
<line x1="467.86" y1="529.1" x2="467.86" y2="530.7" stroke="#222" stroke-width="0.8"/>
<line x1="473.00" y1="529.1" x2="473.00" y2="530.7" stroke="#222" stroke-width="0.8"/>
<line x1="478.15" y1="529.1" x2="478.15" y2="530.7" stroke="#222" stroke-width="0.8"/>
<line x1="483.29" y1="529.1" x2="483.29" y2="531.3000000000001" stroke="#222" stroke-width="0.8"/>
<line x1="488.44" y1="529.1" x2="488.44" y2="530.7" stroke="#222" stroke-width="0.8"/>
<line x1="493.58" y1="529.1" x2="493.58" y2="530.7" stroke="#222" stroke-width="0.8"/>
<line x1="498.72" y1="529.1" x2="498.72" y2="530.7" stroke="#222" stroke-width="0.8"/>
<line x1="503.87" y1="529.1" x2="503.87" y2="530.7" stroke="#222" stroke-width="0.8"/>
<line x1="509.01" y1="529.1" x2="509.01" y2="531.3000000000001" stroke="#222" stroke-width="0.8"/>
<line x1="380.4" y1="529.10" x2="377.4" y2="529.10" stroke="#222" stroke-width="0.8"/>
<line x1="380.4" y1="524.39" x2="378.4" y2="524.39" stroke="#222" stroke-width="0.8"/>
<line x1="380.4" y1="519.69" x2="378.4" y2="519.69" stroke="#222" stroke-width="0.8"/>
<line x1="380.4" y1="514.98" x2="378.4" y2="514.98" stroke="#222" stroke-width="0.8"/>
<line x1="380.4" y1="510.27" x2="378.4" y2="510.27" stroke="#222" stroke-width="0.8"/>
<line x1="380.4" y1="505.56" x2="377.4" y2="505.56" stroke="#222" stroke-width="0.8"/>
<line x1="380.4" y1="500.86" x2="378.4" y2="500.86" stroke="#222" stroke-width="0.8"/>
<line x1="380.4" y1="496.15" x2="378.4" y2="496.15" stroke="#222" stroke-width="0.8"/>
<line x1="380.4" y1="491.44" x2="378.4" y2="491.44" stroke="#222" stroke-width="0.8"/>
<line x1="380.4" y1="486.74" x2="378.4" y2="486.74" stroke="#222" stroke-width="0.8"/>
<line x1="380.4" y1="482.03" x2="377.4" y2="482.03" stroke="#222" stroke-width="0.8"/>
<line x1="380.4" y1="477.32" x2="378.4" y2="477.32" stroke="#222" stroke-width="0.8"/>
<line x1="380.4" y1="472.62" x2="378.4" y2="472.62" stroke="#222" stroke-width="0.8"/>
<line x1="380.4" y1="467.91" x2="378.4" y2="467.91" stroke="#222" stroke-width="0.8"/>
<line x1="380.4" y1="463.20" x2="378.4" y2="463.20" stroke="#222" stroke-width="0.8"/>
<line x1="380.4" y1="458.49" x2="377.4" y2="458.49" stroke="#222" stroke-width="0.8"/>
<line x1="380.4" y1="453.79" x2="378.4" y2="453.79" stroke="#222" stroke-width="0.8"/>
<line x1="380.4" y1="449.08" x2="378.4" y2="449.08" stroke="#222" stroke-width="0.8"/>
<line x1="380.4" y1="444.37" x2="378.4" y2="444.37" stroke="#222" stroke-width="0.8"/>
<line x1="380.4" y1="439.67" x2="378.4" y2="439.67" stroke="#222" stroke-width="0.8"/>
<line x1="380.4" y1="434.96" x2="377.4" y2="434.96" stroke="#222" stroke-width="0.8"/>
<line x1="380.4" y1="430.25" x2="378.4" y2="430.25" stroke="#222" stroke-width="0.8"/>
<line x1="380.4" y1="425.55" x2="378.4" y2="425.55" stroke="#222" stroke-width="0.8"/>
<line x1="380.4" y1="420.84" x2="378.4" y2="420.84" stroke="#222" stroke-width="0.8"/>
<line x1="380.4" y1="416.13" x2="378.4" y2="416.13" stroke="#222" stroke-width="0.8"/>
<line x1="380.4" y1="411.42" x2="377.4" y2="411.42" stroke="#222" stroke-width="0.8"/>
<text x="380.40" y="540.30" font-size="8" fill="#222" text-anchor="middle">0</text>
<text transform="translate(373.60,529.10) rotate(-90)" font-size="8" fill="#222" text-anchor="middle">0</text>
<text x="406.12" y="540.30" font-size="8" fill="#222" text-anchor="middle">200</text>
<text transform="translate(373.60,505.56) rotate(-90)" font-size="8" fill="#222" text-anchor="middle">200</text>
<text x="431.85" y="540.30" font-size="8" fill="#222" text-anchor="middle">400</text>
<text transform="translate(373.60,482.03) rotate(-90)" font-size="8" fill="#222" text-anchor="middle">400</text>
<text x="457.57" y="540.30" font-size="8" fill="#222" text-anchor="middle">600</text>
<text transform="translate(373.60,458.49) rotate(-90)" font-size="8" fill="#222" text-anchor="middle">600</text>
<text x="483.29" y="540.30" font-size="8" fill="#222" text-anchor="middle">800</text>
<text transform="translate(373.60,434.96) rotate(-90)" font-size="8" fill="#222" text-anchor="middle">800</text>
<text x="509.01" y="540.30" font-size="8" fill="#222" text-anchor="middle">1000</text>
<text transform="translate(373.60,411.42) rotate(-90)" font-size="8" fill="#222" text-anchor="middle">1000</text>
<g transform="translate(78.7,268.7) scale(0.25327,0.25104)">
<clipPath id="cp00"><rect x="0" y="0" width="520" height="480"/></clipPath>
<g clip-path="url(#cp00)" fill="none" stroke-width="3.00" stroke-linejoin="round">
<path d="M85 -2 Q120 44 156 -2Z" fill="#111" stroke="#111"/><path d="M156 -2 L267 -2 L267 6 Q210 9 156 7Z" fill="#111" stroke="#111"/><path d="M160 11 Q210 14 267 11" stroke="#111"/><path d="M267 -2 L373 -2 L373 12 Q340 18 300 15 Q280 17 267 14Z" fill="#111" stroke="#111"/><path d="M373 -2 L520 -2 L520 4 Q450 6 373 5Z" fill="#111" stroke="#111"/><path d="M373 11 Q420 16 470 12 Q500 10 518 16" stroke="#111" stroke-width="3"/><path d="M373 18 Q430 24 490 18" stroke="#333" stroke-width="2.5"/><path d="M515 0 L524 0 L524 480 L519 480 L519 130 L515 120Z" fill="#222" stroke="#222"/>
<path d="M524 130L518 130L516 129L515 120L514 116L515 104L514 94L515 86L514 80L513 72L515 48L514 37L515 22L514 20L512 19L504 18" stroke="#1a1a1a"/>
<path d="M504 18L496 18L488 21L478 21L476 26L478 36L476 38L476 52L472 52L470 54L464 56L462 58L458 58L456 60L450 61L449 62L448 64L444 64L442 67L432 71L429 74L428 84L433 88L432 90L439 96L439 98L444 104L444 106L446 110L450 112L450 114L456 120L456 122L460 126L460 128L467 134L464 135L462 137L460 137L458 139L454 139L452 137L450 137L448 135L444 134L442 132L438 132L432 129L430 129L429 130L429 134L424 140L425 144L423 146L424 148L419 162L422 164L423 170L425 172L424 176L431 182L431 184L435 188L435 190L441 196L436 201L430 203L428 210L428 214L425 218L425 220L421 226L421 228L417 232L417 234L415 236L415 242L414 244L413 254L411 256L410 272L412 274L412 278L415 280L415 282L406 289L404 288L402 291L400 291L394 298L392 299L390 299L368 322L360 329L357 330L344 344L340 344L332 351L330 350L326 354L320 362L318 362L310 369L308 369L302 373L300 373L296 377L294 377L286 383L284 383L280 385L278 390L272 391L270 391L266 394L264 394L260 398L256 399L254 401L246 405L244 405L242 407L238 407L236 409L230 411L224 416L218 417L217 418L217 420L216 422L208 422L206 424L202 424L196 424L194 426L188 426L186 428L178 428L176 430L170 430L168 432L160 432L157 434L152 434L150 436" stroke="#dc2a2e"/>
<path d="M150 436L140 437L138 439L128 440L126 442L118 441L116 442L106 444L104 446L100 445L96 439L92 436L78 432L72 428L70 428L69 426L63 422L56 420L54 418L54 416L50 412L50 410L46 406L46 404L42 400L44 398L44 394L47 392L49 384L48 378L50 376L50 370L52 368L51 360L53 358L53 350L55 348L55 340L57 338L57 330L59 328L60 320L63 316L62 306L64 304L64 294L66 292L66 283L70 276L68 266L69 256L68 244L68 240L70 238L69 228L71 218L70 212L70 203L73 198L75 186L74 172L76 170L77 166L82 158L82 156L88 150" stroke="#3428dc"/>
<path d="M88 150L91 146L91 144L90 138L88 136L88 132L86 130L85 124L83 122L83 114L86 104L84 92L89 78L88 74L86 70L86 66L85 64L88 62L89 56L88 44L90 42L90 37L94 30L90 2L88 0" stroke="#1a1a1a"/>
<path d="M215 272L223 262L223 260L225 258L225 256L222 254L222 248L221 246L221 240L219 238L219 230L217 228L217 220L215 218L214 210L212 208L214 200L213 190L210 186L209 178L207 176L207 166L205 164L206 154L208 152L207 138L210 136L210 122L212 120L207 116L207 114L203 110L203 108L201 106L201 102L205 96L205 94L209 88L209 86L216 76L217 70L219 68L219 66L221 64L223 58L239 40L239 38L250 28L248 26L247 20L245 18L245 16" stroke="#dc2a2e"/>
<path d="M245 16L244 15L228 15L220 13L212 15L206 15L203 14L200 11L196 10L182 14L172 13L164 14L146 14L144 16L145 30L147 32L146 40L148 42L148 48L150 52L151 58L152 60L152 66L154 68L155 74L157 76L156 82L157 88L160 92L160 94L159 104L160 106L160 112L164 120L164 124L163 126L162 132L159 138L160 148L158 150L160 152" stroke="#1a1a1a"/>
<path d="M160 152L159 158L161 166L164 170L164 174L166 176L166 182L168 184L168 190L170 192L170 196L173 198L171 210L176 218L179 228L184 234L185 236L186 238L190 249L197 256L197 258L198 259" stroke="#3428dc"/>
<path d="M198 259L201 262L201 264L203 266L203 268L206 271L210 271L212 273L214 273L215 272" stroke="#dc2a2e"/>
<path d="M104 445L100 444L96 437L88 430L85 424L78 421L72 416L71 414L68 406L66 404L64 396L60 400L56 400L52 404L50 402L50 400L51 398L56 392L62 392L52 380L55 376L56 365L68 354L74 352L76 340L79 328L80 316L81 314L82 298L84 288L87 282L90 268L91 266L94 246L97 240L99 232L100 220L101 218L102 214L108 206L110 198L114 192L123 192L126 194L128 196L131 202L136 208L136 210L138 212L140 222L146 232L146 236L148 238L149 246L158 261L159 274L160 276L161 282L166 294L170 306L172 308L182 307L190 298L198 295" stroke="#3428dc"/>
<path d="M198 295L202 293L204 290L201 280L201 276L203 274L208 273L210 273L212 275L216 274L219 272L224 264L224 260L226 258L225 256L223 254L223 248L221 246L222 240L220 238L219 230L218 228L218 220L216 217L215 210L213 208L215 200L214 190L212 186L210 178L208 176L209 166L208 162L210 152L208 142L211 136L212 124L214 118L206 110L204 104L216 82L220 70L224 66L226 56L238 47L243 38L252 30L253 28L251 24L252 16" stroke="#dc2a2e"/>
<path d="M252 16L254 6L258 2L262 3L272 7L278 8L284 7L294 1L298 1L308 3L320 4L326 8L331 14L342 17" stroke="#1a1a1a"/>
<path d="M342 17L347 20L352 31L361 36L364 45L366 46L374 46L378 50L379 54L379 66L380 70L382 73L389 76L390 78L390 80L381 84L380 86L381 90L384 92L390 93L394 90L396 86L398 85L400 86L401 88L402 99L404 100L416 100L419 102L418 105L408 108L402 126L404 136L402 142L405 146L415 154L415 164L422 174L422 178L426 184L426 186L419 222L412 236L413 242L412 244L412 252L409 256L408 272L413 282L412 284L410 284L408 286L401 286L398 292L395 296L392 299L390 299L389 300L365 324L360 329L358 328L355 330L350 337L348 337L342 344L340 343L332 350L328 350L326 352L320 361L318 361L306 370L294 375L288 380L280 384L276 388L266 388L240 393L238 396L238 400L228 410L228 412L224 416L216 416L216 421L214 421L212 421L206 423L202 422L184 422L182 420L182 416L178 416L170 406L168 408L165 408L150 430" stroke="#dc2a2e"/>
<path d="M150 430L146 434L137 438L128 438L126 440L118 439L106 443L104 445" stroke="#3428dc"/>
<path d="M64 394L64 394" stroke="#3428dc"/>
<path d="M114 435L108 436L104 435L92 424L88 423L83 420L76 419L72 414L74 410L70 408L67 402L66 390L55 380L56 378L58 378L62 381L64 380L66 379L67 372L63 368L66 366L68 366L70 364L71 360L78 352L80 352L82 334L86 321L87 298L96 278L103 248L106 242L112 237L126 235L131 238L134 248L147 266L150 284L156 298L161 322" stroke="#3428dc"/>
<path d="M161 322L162 326L164 330L180 326L190 320" stroke="#dc2a2e"/>
<path d="M190 320L198 317" stroke="#3428dc"/>
<path d="M198 317L214 312L228 303L239 294L250 282L249 278L244 272L240 268L235 266L233 264L232 252L229 248L233 242L232 236L230 230L225 224L227 212L223 200L223 190L220 182L224 170L224 164L224 160L221 154L221 148L227 134L223 124L232 112L231 100L239 88L248 81L250 78L253 68L262 58L270 55L282 55L292 52L296 52L305 60L315 66L324 79L330 82L338 90L339 94L337 106L337 112L342 122L344 133L351 140L353 144L349 152L349 158L350 162L357 172L357 180L350 214L354 215L360 211L363 212L362 214L358 217L357 220L352 234L353 238L355 246L355 250L346 258L340 270L340 272L351 280L366 286L372 287L384 287L390 289L394 292L393 296L388 298L382 306L362 326L354 329L350 336L348 336L342 343L336 344L330 348L328 349L324 352L320 357L308 360L284 370L272 369L254 375L242 376L242 380L247 382L238 393L237 400L230 407L228 408L224 415L220 415L218 414L216 415L216 420L214 421L212 420L206 423L202 422L186 422L183 420L182 416L176 414L174 412L172 406L166 406L162 402L163 406L162 408L156 412L150 418" stroke="#dc2a2e"/>
<path d="M150 418L146 424L142 427L127 430L114 435" stroke="#3428dc"/>
<path d="M352 116L350 115L350 114L352 113L352 116" stroke="#dc2a2e"/>
<path d="M54 400L52 400L56 395L58 393L61 394L62 396L60 398L54 400" stroke="#3428dc"/>
<path d="M116 431L112 430L106 430L96 424L89 422L87 420L90 416L88 414L82 418L78 419L76 418L73 414L76 410L76 408L72 408L70 406L68 400L66 388L61 384L66 381L68 378L69 370L71 366L72 360L78 354L82 352L85 336L90 318L90 300L97 288L102 274L108 252L112 245L118 244L124 246L139 266L142 274L144 286L151 300L153 312L156 321" stroke="#3428dc"/>
<path d="M156 321L164 343L168 343L173 338L182 335L194 327L208 326L217 324L228 319L238 311L252 308L255 306L260 298L269 292L272 282L273 280L276 279L286 279L289 278L289 274L287 268L276 261L272 260L264 265L260 264L257 260L253 246L245 234L243 222L236 206L235 200L237 180L235 166L234 158L238 144L236 128L245 102L252 94L260 80L272 69L276 68L280 68L304 77L311 84L316 96L324 110L329 120L329 124L328 136L334 148L336 152L335 156L332 162L331 166L335 176L336 182L332 198L333 210L332 215L324 229L316 236L314 240L314 250L313 256L310 258L301 260L303 274L304 277L314 286L330 296L334 297L344 298L347 300L350 304L359 312L360 316L359 320L356 323L344 329L338 335L330 340L308 350L296 354L284 355L266 358L248 365L242 365L246 370L245 372L242 375L241 380L242 381L245 382L245 384L238 392L237 400L228 408L225 414L222 415L216 414L214 416L214 420L212 419L206 423L200 421L186 422L184 420L182 415L175 412L172 406L166 405L162 399L160 400L161 402L161 408L157 410L152 415L150 416" stroke="#dc2a2e"/>
<path d="M150 416L148 416L142 422L126 426L120 428L116 431" stroke="#3428dc"/>
<path d="M66 368L66 368" stroke="#3428dc"/>
<path d="M60 396L58 398L56 397L56 396L58 394L60 395L60 396" stroke="#3428dc"/>
<path d="M284 250L282 249L270 243L264 233L250 217L244 198L244 172L241 160L245 146L244 130L247 118L251 110L264 91L274 89L284 83L294 89L304 90L306 91L309 98L310 112L318 119L320 122L320 136L323 148L322 166L326 182L321 200L312 220L302 231L288 238L286 242L284 250" stroke="#dc2a2e"/>
<path d="M116 430L111 428L110 425L102 424L98 422L91 422L89 420L93 416L92 414L88 412L86 413L82 417L78 418L76 418L74 414L77 410L77 408L72 407L69 404L69 400L70 396L66 384L70 378L70 372L72 368L73 360L80 353L84 354L85 352L87 338L93 320L94 300L105 280L112 271L126 268L130 270L132 272L146 300L147 314L151 322" stroke="#3428dc"/>
<path d="M151 322L157 338L160 350L162 360L164 358L170 345L182 340L188 335L190 336L196 336L200 333L210 333L214 336L218 335L220 335L226 344L234 346L234 352L236 354L240 354L242 356L242 358L240 360L238 360L238 362L244 368L244 372L242 374L241 380L241 382L244 384L243 386L238 391L237 398L228 408L224 414L216 414L213 418L206 422L200 421L186 421L182 415L178 414L175 412L172 406L166 404L160 396L158 398L161 406L152 414L150 415" stroke="#dc2a2e"/>
<path d="M150 415L146 416L140 421L136 423L128 424L122 424L119 428L116 430" stroke="#3428dc"/>
<path d="M278 348L274 349L270 348L264 340L261 338L258 338L250 343L246 344L238 344L238 342L247 330L250 320L262 318L264 315L268 306L284 293L290 292L312 295L319 298L329 310L329 314L328 316L320 322L314 328L300 340L294 342L286 341L278 348" stroke="#dc2a2e"/>
<path d="M164 366L163 366L164 367L164 366" stroke="#dc2a2e"/>
<path d="M75 378L72 378L75 378" stroke="#3428dc"/>
<path d="M75 396L74 394L72 394L70 396L74 397L75 396" stroke="#3428dc"/>
<path d="M58 396L58 396" stroke="#3428dc"/>
<path d="M276 231L272 230L270 228L266 216L256 206L251 192L250 184L250 148L251 142L254 134L253 122L257 114L272 99L282 96L288 96L298 97L301 100L303 114L313 128L316 150L316 168L312 180L314 192L313 196L308 202L306 214L302 221L296 225L284 226L276 231" stroke="#dc2a2e"/>
<path d="M116 429L113 428L111 426L112 424L115 422L114 420L110 420L104 423L98 421L92 421L91 420L95 416L94 414L88 411L86 411L80 417L76 416L75 414L79 408L72 405L70 402L70 400L76 397L76 394L74 393L70 392L69 386L70 382L75 380L77 378L71 374L74 368L74 360L80 354L82 354L86 357L87 356L89 348L87 344L89 342L96 324L98 304L104 296L107 288L110 284L114 281L122 280L128 283L131 286L139 300L142 318L150 332" stroke="#3428dc"/>
<path d="M150 332L159 370L164 368L164 366L160 362L166 356L169 348L172 345L179 342L188 336L194 337L198 336L200 334L208 334L212 336L213 338L212 340L214 341L220 337L222 339L225 344L228 344L232 348L236 357L238 355L240 355L241 358L237 360L238 362L242 366L244 370L240 380L240 382L243 384L242 386L238 390L237 398L227 408L224 414L218 413L216 413L212 418L206 422L200 420L196 421L186 421L182 414L178 414L174 410L172 406L166 404L161 396L162 393L162 390L156 396L159 402L160 406L150 414" stroke="#dc2a2e"/>
<path d="M150 414L146 415L140 420L134 423L128 423L122 421L116 429" stroke="#3428dc"/>
<path d="M298 333L293 332L284 323L274 322L273 318L275 312L279 306L284 302L288 301L296 304L308 302L312 303L314 306L314 312L309 322L304 328L298 333" stroke="#dc2a2e"/>
<path d="M294 214L289 210L286 209L278 213L274 213L262 204L260 198L261 184L256 174L255 168L254 148L256 144L264 134L262 124L263 120L266 115L274 109L288 105L293 106L302 122L303 128L302 134L309 142L312 156L311 166L305 180L304 192L298 202L297 212L294 214" stroke="#dc2a2e"/>
<path d="M130 422L126 421L122 418L118 419L110 417L106 421L102 421L97 418L96 414L86 409L84 410L80 415L78 415L77 414L81 410L81 408L80 406L74 405L72 403L72 401L76 398L77 394L76 392L72 390L71 386L72 383L78 380L79 378L79 376L78 375L75 374L74 372L76 368L75 362L80 356L82 356L84 362L86 364L88 361L90 354L93 340L98 328L101 312L103 308L110 304L122 302L128 303L132 307L137 322L146 336L148 354L149 356L152 357" stroke="#3428dc"/>
<path d="M152 357L154 360L154 366L158 375L160 372L165 368L165 366L161 362L166 356L169 348L172 345L177 344L188 337L195 338L202 334L210 334L212 336L213 342L215 342L220 338L222 340L224 344L228 345L232 348L236 360L238 363L241 366L243 370L239 382L242 384L242 386L238 390L237 396L235 400L227 408L224 413L218 412L206 422L201 420L186 420L182 414L178 414L174 410L173 406L166 403L162 396L162 390L160 387L154 394L155 398L158 402L158 406L154 407L152 406L150 407" stroke="#dc2a2e"/>
<path d="M150 407L145 410L142 417L130 422" stroke="#3428dc"/>
<path d="M240 358L238 359L236 358L238 355L240 356L240 358" stroke="#dc2a2e"/>
<path d="M150 410L150 409L151 410" stroke="#3428dc"/>
<path d="M151 410L150 410" stroke="#dc2a2e"/>
<path d="M137 416L136 414L133 414L134 417L136 418L137 416" stroke="#3428dc"/>
<path d="M116 428L113 426L116 424L117 426L116 428" stroke="#3428dc"/>
<path d="M276 203L272 203L270 202L269 200L271 192L271 188L267 180L262 172L260 166L260 148L262 145L270 138L272 134L270 124L272 121L274 120L288 126L290 128L292 138L294 141L303 148L306 158L305 164L295 192L290 197L276 203" stroke="#dc2a2e"/>
<path d="M132 420L128 420L122 415L118 418L109 416L106 420L102 420L96 413L90 410L84 404L76 403L74 402L78 398L78 392L73 388L72 386L74 383L79 380L82 374L82 370L80 369L79 366L80 364L85 368L89 368L96 342L102 330L105 316L108 311L112 310L118 310L122 311L126 314L130 326L140 340L143 356L150 370" stroke="#3428dc"/>
<path d="M150 370L157 384L157 386L151 394L153 396L153 400L150 402" stroke="#dc2a2e"/>
<path d="M150 402L142 408L140 414L137 412L132 412L131 414L132 420" stroke="#3428dc"/>
<path d="M206 421L202 420L186 420L183 414L178 413L175 410L173 406L168 404L163 398L162 389L158 384L158 382L160 372L166 368L166 366L162 362L168 354L169 350L172 346L178 344L186 339L197 338L202 335L208 335L211 336L212 342L216 342L220 339L224 345L228 346L231 348L234 354L234 358L238 364L241 366L243 370L239 382L241 386L238 389L236 398L231 404L226 408L224 412L217 412L206 421" stroke="#dc2a2e"/>
<path d="M238 358L238 358" stroke="#dc2a2e"/>
<path d="M152 365L150 365" stroke="#dc2a2e"/>
<path d="M150 365L149 364L149 360L152 359" stroke="#3428dc"/>
<path d="M152 359L153 362L152 365" stroke="#dc2a2e"/>
<path d="M276 176L272 175L269 168L275 160L280 149L282 147L286 146L291 150L294 154L293 168L290 172L276 176" stroke="#dc2a2e"/>
<path d="M104 419L102 418L101 416L97 412L90 408L88 404L86 402L79 400L79 390L75 388L74 386L75 384L81 380L86 371L92 368L92 362L95 358L99 346L107 334L112 320L114 319L116 320L121 328L134 342L142 364L150 380" stroke="#3428dc"/>
<path d="M150 380L153 384L153 386L150 389" stroke="#dc2a2e"/>
<path d="M150 389L148 392L150 396" stroke="#3428dc"/>
<path d="M150 396L150 398" stroke="#dc2a2e"/>
<path d="M150 398L146 403L140 406L138 410L129 412L128 417L124 412L116 416L107 414L105 416L105 418L104 419" stroke="#3428dc"/>
<path d="M206 420L202 419L188 419L185 418L184 414L178 413L175 410L174 406L168 403L163 398L162 396L163 392L162 388L159 382L161 372L166 368L166 366L162 362L168 355L169 350L172 346L179 344L188 339L198 338L208 335L211 336L211 342L216 342L220 339L222 342L222 346L228 346L231 348L233 354L234 359L242 368L242 370L240 372L241 376L238 382L241 386L238 388L237 394L235 398L226 408L224 411L216 412L206 420" stroke="#dc2a2e"/>
<path d="M152 362L150 362L152 361L152 362" stroke="#dc2a2e"/>
<path d="M206 420L194 419L190 418L188 419L186 418L184 414L178 412L176 410L174 406L168 403L163 396L163 390L159 382L161 372L167 368L166 366L163 362L168 356L169 350L172 347L180 344L184 341L188 340L208 336L211 338L210 342L216 343L220 340L221 342L222 348L226 347L228 347L230 348L233 354L234 360L241 368L239 372L239 378L236 386L237 392L235 398L226 407L224 410L216 412L206 420" stroke="#dc2a2e"/>
<path d="M118 414L116 415L114 414L110 410L106 412L102 413L92 408L92 402L82 400L80 398L80 396L82 392L88 393L90 390L84 386L78 387L76 386L82 382L88 373L94 370L104 348L114 340L118 338L122 340L132 350L138 364L140 366L139 370L142 376L143 378L146 379L147 384L146 388L146 394L145 400L139 404L138 408L134 410L124 409L121 410L118 414" stroke="#3428dc"/>
<path d="M240 386L240 386" stroke="#dc2a2e"/>
<path d="M206 418L196 419L192 418L188 418L186 417L184 413L178 412L174 405L168 402L163 396L164 392L160 382L162 372L166 370L167 368L167 366L163 362L169 356L169 352L172 347L180 345L186 341L208 337L210 338L210 343L216 343L220 341L221 348L224 350L226 347L229 348L232 354L233 360L241 368L238 372L239 378L235 386L237 392L234 398L232 398L230 402L226 406L224 409L216 411L212 415L206 418" stroke="#dc2a2e"/>
<path d="M116 412L114 408L112 408L110 408L106 411L101 410L99 408L97 402L90 398L89 396L93 390L89 384L94 380L97 372L97 368L102 364L106 356L110 354L118 356L126 355L130 357L132 360L134 370L137 374L138 379L141 384L141 388L144 392L144 396L142 400L138 402L135 408L124 407L121 408L116 412" stroke="#3428dc"/>
<path d="M84 398L82 397L82 395L85 396L84 398" stroke="#3428dc"/>
<path d="M198 418L188 416L184 412L180 412L177 410L174 405L169 402L164 396L165 392L162 384L162 374L167 370L168 366L165 362L170 356L170 352L172 348L180 346L185 342L200 340L204 338L208 338L208 342L210 344L219 344L220 348L224 352L226 352L228 350L228 348L228 350L232 356L232 360L240 368L237 372L238 376L234 386L236 392L234 396L232 396L230 398L229 402L224 406L224 408L216 410L212 414L198 418Z" fill="#e40808" stroke="#e40808"/>
<path d="M106 408L103 408L101 400L94 396L98 378L110 366L116 364L124 365L126 367L128 372L134 374L136 378L135 386L138 391L141 394L141 398L136 400L134 404L132 406L110 406L106 408" stroke="#3428dc"/>
<path d="M196 416L190 413L188 409L186 407L182 410L179 410L175 404L171 400L173 396L172 394L170 389L167 388L166 386L169 382L166 376L169 370L168 362L169 360L173 358L174 356L174 352L182 349L186 344L196 341L204 342L210 345L216 345L218 346L221 352L224 354L229 356L230 362L235 366L235 368L235 372L232 376L234 380L232 390L228 394L226 400L223 404L220 407L214 410L210 413L208 413L202 410L200 411L198 415L196 416Z" fill="#e40808" stroke="#e40808"/>
<path d="M130 402L110 404L107 402L104 398L98 392L101 382L107 376L110 374L122 374L126 379L131 382L134 394L130 402" stroke="#3428dc"/>
<path d="M196 413L192 412L190 406L177 400L174 392L173 386L169 376L171 372L171 364L172 362L175 360L179 354L186 348L196 344L202 348L208 348L214 346L216 347L217 352L225 358L228 364L232 367L233 370L229 376L231 382L231 386L226 392L225 398L222 402L217 406L212 406L210 407L208 410L202 408L200 409L196 413Z" fill="#e40808" stroke="#e40808"/>
<path d="M124 400L112 400L110 400L105 394L104 390L104 386L110 380L112 378L120 379L128 384L130 388L129 396L128 398L124 400" stroke="#3428dc"/>
<path d="M196 409L194 408L191 404L185 400L180 398L178 396L175 392L175 386L173 382L173 378L174 366L180 358L186 355L191 350L196 348L202 351L212 353L221 358L223 362L224 366L226 369L228 370L226 376L229 382L228 385L223 390L222 396L221 398L216 399L212 403L207 404L204 406L196 409Z" fill="#e40808" stroke="#e40808"/>
<path d="M122 397L114 397L110 395L108 392L109 388L116 384L122 384L125 386L126 392L124 396L122 397" stroke="#3428dc"/>
<path d="M202 402L200 404L196 403L190 401L186 397L182 397L180 396L178 392L178 386L175 382L175 380L176 376L176 370L180 363L194 353L196 352L206 355L218 360L224 372L224 382L218 394L210 401L206 401L202 402Z" fill="#e40808" stroke="#e40808"/>
<path d="M120 394L114 394L112 392L113 390L116 388L120 388L122 392L120 394" stroke="#3428dc"/>
<path d="M208 398L192 399L188 394L183 390L181 388L181 382L179 376L182 368L189 360L196 356L204 357L208 358L214 362L220 369L221 372L219 384L217 390L216 392L208 398Z" fill="#e40808" stroke="#e40808"/>
<path d="M208 395L206 396L194 395L184 386L183 374L185 370L188 366L190 363L192 362L196 363L204 359L209 362L212 368L218 370L218 372L217 376L218 382L214 388L208 395Z" fill="#e40808" stroke="#e40808"/>
<path d="M206 393L196 392L187 384L188 372L194 365L204 363L206 364L209 370L213 374L213 380L212 382L208 390L206 393Z" fill="#e40808" stroke="#e40808"/>
<path d="M204 389L198 389L196 388L190 382L191 374L196 368L200 367L204 368L210 376L207 386L204 389Z" fill="#e40808" stroke="#e40808"/>
<path d="M204 384L202 385L198 385L194 381L194 376L198 371L202 371L206 376L207 380L204 384Z" fill="#e40808" stroke="#e40808"/>
<path d="M202 381L200 382L197 380L197 378L198 375L200 374L203 376L204 378L202 381Z" fill="#e40808" stroke="#e40808"/>

</g></g>
<g transform="translate(229.5,268.7) scale(0.25327,0.25104)">
<clipPath id="cp01"><rect x="0" y="0" width="520" height="480"/></clipPath>
<g clip-path="url(#cp01)" fill="none" stroke-width="3.00" stroke-linejoin="round">
<path d="M82 -2 Q117 50 152 -2Z" fill="#111" stroke="#111"/><path d="M28 3 Q42 12 55 3 M290 3 Q310 12 330 3 M365 3 Q375 9 385 3" stroke="#111" stroke-width="3"/><path d="M505 0 L526 0 L526 22Z" fill="#111" stroke="#111"/>
<path d="M144 0L144 26L146 28L144 38L147 42L149 56L148 66L145 68L145 74L145 76L148 78L149 88L154 96L155 106L158 110L160 112L160 121" stroke="#1a1a1a"/>
<path d="M160 121L159 126L161 130L162 142L164 144L164 156L165 160L164 168L166 172L165 180L168 182L170 182L171 192L173 194L172 201L170 206L172 212L175 218L175 228L178 232L179 240L181 242L180 264L182 266L179 274L179 280L184 298L185 306L187 308L186 318L188 320L188 330L190 332L192 329L194 329" stroke="#3428dc"/>
<path d="M194 329L198 330L200 328L204 327L210 323L214 324L216 322L220 323L224 322L230 316L234 316L238 315L242 308L244 308L249 304L254 302L262 300L264 298L272 298L274 296L278 297L280 296L284 289L290 283L296 286L298 288L296 296L294 298L296 308L294 310L294 318L291 322L292 328L290 330L291 332L289 334L289 336L281 342L280 348L276 354L276 356L266 366L266 368L256 378L256 380L248 388L246 388L240 394L236 396L228 404L224 404L222 406L218 407L216 408L210 407L200 410L196 410L194 412L192 412" stroke="#dc2a2e"/>
<path d="M192 412L182 411L178 412L174 413L166 407L158 404L152 410L146 412L144 414L140 414L134 418L128 420L126 422L122 422L116 426L102 429L100 429L93 424L84 422L76 422L70 418L66 418L64 416L62 416L56 412L52 412L50 410L48 410L48 402L46 400L47 386L47 384L44 380L44 374L44 368L47 358L48 336L49 332L47 324L47 318L50 316L50 304L52 302L52 298L61 280L62 268L64 264L65 254L67 250L69 234L68 222L70 220L68 210L69 206L71 204L71 192L73 190L74 183L76 176L75 166L77 164L77 154L80 152L79 142L86 134L85 130L82 120" stroke="#3428dc"/>
<path d="M82 120L82 112L84 110L84 104L86 100L86 94L87 92L88 84L91 82L94 66L92 38L95 30L95 26L92 17L90 0" stroke="#1a1a1a"/>
<path d="M338 301L332 300L330 298L329 288L332 284L338 284L342 292L342 296L338 301" stroke="#dc2a2e"/>
<path d="M50 304L50 302L52 302L50 304" stroke="#3428dc"/>
<path d="M110 426L100 428L94 424L86 422L73 408L69 400L61 376L55 354L54 344L54 318L56 306L57 292L62 280L63 268L69 248L71 226L73 220L73 216L78 184L83 172L84 156L88 148L90 134L92 128L98 120" stroke="#3428dc"/>
<path d="M98 120L102 116" stroke="#1a1a1a"/>
<path d="M102 116L112 100L124 100L128 104L129 118L138 133L141 148L148 167L149 180L158 204L160 212L159 222L166 256L166 266L168 276L173 294L177 324L176 342L174 348L172 370L170 377L166 383L163 394L159 402L152 409L146 412L144 414L140 414L138 416L128 420L126 422L122 422L116 426L110 426" stroke="#3428dc"/>
<path d="M222 400L210 400L202 398L196 393L192 388" stroke="#dc2a2e"/>
<path d="M192 388L192 378L193 374" stroke="#3428dc"/>
<path d="M193 374L194 370L198 365L204 360L224 350L242 346L252 346L256 348L258 350L260 356L260 363L258 368L254 374L240 388L226 398L222 400" stroke="#dc2a2e"/>
<path d="M108 426L102 427L96 424L88 422L73 404L63 378L57 352L55 342L55 318L58 305L59 290L64 268L76 238L82 218L87 194L94 172L104 143L108 139L112 138L118 140L124 145L129 150L133 158L138 180L145 196L145 208L149 220L150 230L155 238L165 268L172 294L176 326L171 364L163 390L157 402L152 409L144 413L140 414L138 416L128 420L126 421L122 422L116 426L108 426" stroke="#3428dc"/>
<path d="M222 392L216 394L210 393L201 388L198 384L198 380L199 374L201 370L206 365L224 357L236 356L244 357L246 359L247 362L247 366L244 372L234 383L222 392" stroke="#dc2a2e"/>
<path d="M104 426L102 427L99 424L90 422L88 420L76 406L73 400L65 378L59 354L57 342L57 318L61 290L67 264L83 226L90 216L102 176L108 164L110 162L114 160L120 163L125 170L131 184L138 212L155 242L164 270L171 296L174 328L169 366L161 392L151 408L144 413L140 414L138 415L128 419L126 421L122 422L116 425L104 426" stroke="#3428dc"/>
<path d="M220 386L216 388L212 388L206 384L203 380L204 374L210 369L218 365L226 363L232 364L235 368L233 374L228 380L220 386" stroke="#dc2a2e"/>
<path d="M116 425L102 426L100 424L92 421L88 418L77 404L65 374L59 350L58 338L58 316L61 294L67 268L74 253L84 226L89 220L97 212L107 188L112 183L118 185L122 189L132 210L141 220L153 242L163 270L169 294L173 326L169 360L161 388L157 396L148 409L144 412L140 413L138 415L128 419L126 421L122 421L116 425" stroke="#3428dc"/>
<path d="M216 383L212 383L209 380L208 378L210 374L218 370L224 370L225 372L224 376L216 383" stroke="#dc2a2e"/>
<path d="M116 425L102 425L100 423L92 420L86 414L79 404L69 382L63 358L60 344L59 320L62 296L67 272L78 247L83 232L89 222L103 210L108 200L114 195L118 196L120 198L126 210L134 215L139 220L153 244L156 256L162 272L169 298L172 326L167 360L157 394L149 406L144 411L134 417L122 421L116 425" stroke="#3428dc"/>
<path d="M114 424L104 424L92 418L85 410L79 402L69 378L63 354L61 340L61 318L63 298L69 270L78 251L85 230L89 224L94 219L114 207L116 207L119 210L132 215L136 218L150 242L156 260L161 272L164 287L167 296L171 326L167 358L158 388L155 394L145 408L138 414L114 424" stroke="#3428dc"/>
<path d="M116 422L106 422L94 417L88 412L82 404L72 380L65 358L63 344L62 328L63 306L69 274L80 249L86 232L90 225L96 219L106 213L114 212L126 214L134 219L138 224L149 242L154 259L160 272L162 284L166 296L170 326L165 358L154 392L143 408L138 412L134 415L116 422" stroke="#3428dc"/>
<path d="M118 420L108 420L96 416L90 412L84 404L73 380L67 358L65 346L63 328L63 318L65 304L68 290L71 272L82 248L87 232L91 226L96 221L106 216L114 214L124 216L133 220L136 224L148 244L154 262L159 274L162 288L165 298L168 326L165 354L154 390L142 406L136 412L132 415L118 420Z" fill="#2a1cec" stroke="#2a1cec"/>
<path d="M122 416L114 418L98 414L94 412L86 404L76 382L68 356L66 344L65 332L66 307L70 292L72 273L83 250L88 234L90 230L96 224L106 218L114 216L125 218L132 222L144 240L148 247L151 260L158 276L159 286L164 300L166 324L166 334L162 358L152 388L136 410L129 414L122 416Z" fill="#2a1cec" stroke="#2a1cec"/>
<path d="M122 408L116 408L96 403L92 400L90 397L81 380L72 354L69 324L70 310L74 292L76 276L93 238L95 234L98 232L112 225L118 224L124 225L128 228L140 244L144 250L147 264L152 276L156 290L160 300L162 324L158 352L148 382L144 388L131 404L126 407L122 408Z" fill="#2a1cec" stroke="#2a1cec"/>
<path d="M122 399L118 400L114 399L100 395L94 390L89 382L85 374L77 352L73 324L74 316L80 282L88 260L100 242L108 237L116 235L120 235L126 238L135 248L139 254L144 270L149 282L155 302L157 318L157 332L155 346L145 376L141 382L138 386L122 399Z" fill="#2a1cec" stroke="#2a1cec"/>
<path d="M118 390L112 391L104 388L96 381L90 373L81 346L78 320L85 286L93 262L106 247L110 244L116 243L122 245L126 248L132 254L135 260L146 286L152 318L152 334L150 344L145 360L138 376L135 380L131 384L118 390Z" fill="#2a1cec" stroke="#2a1cec"/>
<path d="M120 380L114 381L108 379L100 374L94 368L85 342L83 322L83 316L88 290L97 268L100 264L110 255L116 253L120 253L124 256L128 260L132 266L142 288L147 318L146 338L141 356L128 376L124 379L120 380Z" fill="#2a1cec" stroke="#2a1cec"/>
<path d="M118 372L114 372L108 370L102 366L99 362L89 340L88 318L92 294L100 274L102 270L106 267L112 263L116 262L122 264L126 268L135 284L137 290L143 318L141 336L137 352L134 358L126 367L122 370L118 372Z" fill="#2a1cec" stroke="#2a1cec"/>
<path d="M120 363L116 364L112 363L108 362L104 358L95 342L93 332L93 316L95 302L97 294L105 276L108 273L114 270L118 271L122 274L130 286L133 294L138 318L137 332L133 348L128 356L120 363Z" fill="#2a1cec" stroke="#2a1cec"/>
<path d="M118 354L114 355L110 353L104 348L99 336L97 322L98 310L101 298L108 284L110 281L114 279L120 282L126 290L131 304L134 318L133 330L128 344L124 350L118 354Z" fill="#2a1cec" stroke="#2a1cec"/>
<path d="M118 345L112 345L107 340L103 332L101 322L102 312L105 302L109 294L114 290L118 291L123 296L127 306L129 318L128 326L126 335L122 342L118 345Z" fill="#2a1cec" stroke="#2a1cec"/>
<path d="M116 336L112 335L109 332L107 326L106 320L106 314L109 306L111 302L114 300L116 299L118 301L120 304L123 310L124 318L124 324L122 330L120 334L116 336Z" fill="#2a1cec" stroke="#2a1cec"/>
<path d="M116 327L114 327L112 325L110 320L111 314L114 309L116 309L118 312L120 318L119 324L116 327Z" fill="#2a1cec" stroke="#2a1cec"/>
<circle cx="115" cy="215" r="2.4" fill="#fff" fill-opacity="0.75"/><circle cx="116" cy="225" r="2.1" fill="#fff" fill-opacity="0.75"/><circle cx="119" cy="234" r="2.4" fill="#fff" fill-opacity="0.75"/><circle cx="114" cy="241" r="2.4" fill="#fff" fill-opacity="0.75"/><circle cx="120" cy="250" r="1.6" fill="#fff" fill-opacity="0.75"/><circle cx="120" cy="258" r="1.8" fill="#fff" fill-opacity="0.75"/><circle cx="121" cy="270" r="1.6" fill="#fff" fill-opacity="0.75"/><circle cx="118" cy="276" r="2.5" fill="#fff" fill-opacity="0.75"/><circle cx="116" cy="285" r="2.0" fill="#fff" fill-opacity="0.75"/><circle cx="116" cy="291" r="2.0" fill="#fff" fill-opacity="0.75"/><circle cx="116" cy="300" r="1.8" fill="#fff" fill-opacity="0.75"/><circle cx="118" cy="307" r="1.9" fill="#fff" fill-opacity="0.75"/><circle cx="121" cy="314" r="2.2" fill="#fff" fill-opacity="0.75"/><circle cx="115" cy="324" r="2.6" fill="#fff" fill-opacity="0.75"/><circle cx="115" cy="335" r="1.9" fill="#fff" fill-opacity="0.75"/><circle cx="120" cy="345" r="2.5" fill="#fff" fill-opacity="0.75"/><circle cx="121" cy="353" r="2.3" fill="#fff" fill-opacity="0.75"/><circle cx="119" cy="361" r="2.5" fill="#fff" fill-opacity="0.75"/><circle cx="107" cy="250" r="2.2" fill="#fff" fill-opacity="0.75"/><circle cx="107" cy="268" r="2.1" fill="#fff" fill-opacity="0.75"/><circle cx="103" cy="282" r="2.1" fill="#fff" fill-opacity="0.75"/><circle cx="113" cy="297" r="1.7" fill="#fff" fill-opacity="0.75"/><circle cx="101" cy="310" r="2.4" fill="#fff" fill-opacity="0.75"/><circle cx="101" cy="325" r="2.6" fill="#fff" fill-opacity="0.75"/>
</g></g>
<g transform="translate(380.4,268.7) scale(0.25327,0.25104)">
<clipPath id="cp02"><rect x="0" y="0" width="520" height="480"/></clipPath>
<g clip-path="url(#cp02)" fill="none" stroke-width="3.00" stroke-linejoin="round">
<path d="M0 2 L515 2" stroke="#111" stroke-width="5"/><path d="M110 0 Q152 42 195 0" stroke="#111" stroke-width="4"/><path d="M126 0 Q152 26 180 0" stroke="#111" stroke-width="4"/><path d="M240 4 Q260 10 280 4 M430 4 Q455 12 480 4" stroke="#111" stroke-width="3"/><path d="M513 0 L524 0 L524 350 L513 340Z" fill="#111" stroke="#111"/><rect x="36" y="452" width="9" height="9" stroke="#111"/>
<path d="M185 0L185 8L178 16L178 18L170 26L170 40L166 48L166 50L170 56L170 70L172 72L172 90L174 92L175 104L177 106L176 112L178 114L178 120L180 122L180 130L182 132L182 136" stroke="#1a1a1a"/>
<path d="M182 136L184 138L184 142L186 148L188 150L188 154L190 156L190 160L193 162L193 168L194 170L195 184L197 188L199 200L202 202L202 206L205 208L204 212L206 214L205 220L211 236L212 240L214 242L214 246L216 248L216 252L218 254L218 258L222 264L222 268L224 270L224 274L226 276L226 284L230 290L232 292L234 292" stroke="#3428dc"/>
<path d="M234 292L238 292L240 295L248 296L252 296L264 309L270 312L274 316L278 318L286 315L290 317L294 318L296 320L304 320L304 318L308 314L308 312L313 308L315 302L319 298L319 296L328 287L330 287L334 283L336 283L340 280L340 276L342 274L342 266L344 264L348 254L348 234L350 232L350 226L352 224L352 220L354 218L354 212L356 210L356 206L358 204L358 202L362 198L362 186L364 184L364 180L366 178L366 164L368 162L368 153L372 148L372 143L384 134L386 134L388 132L394 129L396 128L398 128L400 126L402 126L406 122L410 121L416 124L422 126L434 137L446 138L454 140L458 140L462 137L466 137L470 135L476 134L478 132L482 132L484 130L488 130L490 128L492 128L496 130L504 138L506 144L509 146" stroke="#dc2a2e"/>
<path d="M509 146L509 148L511 150L510 162L512 172L510 196L508 206" stroke="#1a1a1a"/>
<path d="M508 206L508 210" stroke="#dc2a2e"/>
<path d="M508 210L510 216L510 234L508 248L510 255L511 262L509 274L510 288L508 304L509 320L508 323" stroke="#1a1a1a"/>
<path d="M508 323L508 326" stroke="#dc2a2e"/>
<path d="M508 326L508 326" stroke="#1a1a1a"/>
<path d="M508 326L506 328L506 330L504 332L504 334L502 336L500 342L498 344L496 344L488 353L486 353L478 360L476 360L472 364L466 366L462 369L456 372L454 374L452 374L448 378L446 378L444 380L442 380L436 382L422 390L412 391L406 395L400 396L395 400L392 400L390 402L386 402L384 404L380 404L378 406L372 406L370 408L366 408L364 410L360 410L358 412L352 413L350 415L346 414L338 415L334 418L332 418L330 420L326 420L324 422L318 422L316 424L312 423L306 425L304 428L298 429L296 431L284 434L282 436L276 435L274 437L268 437L266 439L252 440L242 438L230 432L212 428" stroke="#dc2a2e"/>
<path d="M212 428L210 430L206 432L204 434L198 433L190 438L188 440L180 442L174 442L164 448L158 449L152 448L130 447L126 445L118 444L98 444L96 446L90 445L86 447L82 448L80 449L72 450L70 452" stroke="#3428dc"/>
<path d="M70 452L62 452L60 455L56 454L54 456L48 456L43 460L40 460L34 464L30 464L28 462L24 462L22 460L18 460L18 458L20 456L20 450L22 448L22 442L24 440L24 438L33 430L37 424L36 420L40 416L40 414L44 411L56 397L61 392L63 388L64 384" stroke="#1a1a1a"/>
<path d="M64 384L71 376L74 362L74 356L76 354L76 350L78 348L78 342L80 340L80 336L82 334L82 329L84 326L85 322L86 320L85 314L87 312L87 308L89 306L90 300L92 298L92 294L94 292L97 284L99 274L112 250L111 242L113 240L113 232L115 230L116 218L118 216L118 200L120 198L121 194L120 182L122 180L122 168L124 164L124 150L125 148L125 142L127 134" stroke="#3428dc"/>
<path d="M127 134L125 122L128 120L128 118L131 114L128 107L127 96L127 94L129 92L130 82L132 80L132 71L135 68L135 60L137 56L136 46L134 44L134 36L132 34L134 30L135 26L132 22L126 22L124 20L122 20L116 12L106 11L104 8L106 0" stroke="#1a1a1a"/>
<path d="M158 449L130 447L114 441L106 435L100 428L90 422L76 404L76 390L78 386L80 366L83 354L84 338L89 322L90 314L95 302L98 288L102 276L108 262L114 252L113 244L115 234L122 222L124 210L136 194L142 192L154 192L166 204L174 216L176 221L179 236L186 249L187 262L192 282L193 294L194 300L200 312L200 336L208 354L212 340L216 332L222 326L234 322" stroke="#3428dc"/>
<path d="M234 322L240 319L254 310L260 309L266 311L274 318L278 320L286 317L288 319L294 319L296 321L304 321L305 318L309 314L309 312L313 308L316 302L320 299L328 289L332 286L342 283L346 280L350 282L358 282L368 276L372 276L374 274L374 268L376 266L380 250L388 238L390 236L413 224L424 223L446 224L456 228L470 236L476 242L484 256L485 262L486 264L486 280L485 282L484 288L483 290L482 294L477 304L476 310L472 317L456 332L436 347L422 358L416 361L406 368L396 373L380 384L374 387L354 400L342 405L326 416L306 424L296 430L284 433L282 435L276 435L274 436L268 437L266 438L252 439L242 437L236 434L221 428L217 422L217 416L212 401" stroke="#dc2a2e"/>
<path d="M212 401L211 406L203 422L197 432L193 436L188 440L182 440L180 442L174 442L172 444L168 444L164 448L158 449" stroke="#3428dc"/>
<path d="M156 448L129 446L118 441L106 433L102 428L93 408L89 384L91 374L94 367L99 342L102 334L110 298L120 276L125 258L136 238L142 233L150 230L156 232L160 236L165 246L168 254L175 268L177 274L181 292L184 308L191 318L194 328L201 342L209 366L212 382L209 408L202 422L193 434L188 439L182 440L180 442L174 442L172 444L167 444L164 447L156 448" stroke="#3428dc"/>
<path d="M256 438L254 439L242 437L237 434L224 429L221 426L219 422L219 418L224 406L221 380" stroke="#dc2a2e"/>
<path d="M221 380L219 368L221 360L227 350L233 344" stroke="#3428dc"/>
<path d="M233 344L248 338L262 331L284 322L292 321L296 322L304 322L307 318L312 315L320 311L328 310L368 304L380 305L392 304L398 306L408 300L414 300L416 298L430 296L434 296L444 300L450 304L454 310L454 322L452 324L452 326L446 334L438 340L434 341L432 342L422 343L400 361L380 375L338 400L308 419L280 432L266 436L264 438L256 438" stroke="#dc2a2e"/>
<path d="M164 447L156 448L138 447L130 445L120 441L107 432L102 426L95 408L91 384L91 378L108 326L115 298L122 283L129 262L142 243L148 240L154 242L158 246L172 272L180 306L189 318L199 340L207 364L211 382L209 402L207 408L201 420L193 432L188 438L182 440L180 442L174 442L172 444L166 444L164 447" stroke="#3428dc"/>
<path d="M254 439L240 436L238 434L225 428L222 424L221 420L222 414L224 410L232 402L230 392L230 380" stroke="#dc2a2e"/>
<path d="M230 380L233 368" stroke="#3428dc"/>
<path d="M233 368L236 362L240 358L252 352L262 346L278 342L290 337L303 334L316 329L336 326L354 326L366 323L372 323L378 326L384 330L397 344L397 348L395 352L381 366L328 400L321 408L312 415L294 425L277 430L274 433L270 434L264 437L260 436L254 439" stroke="#dc2a2e"/>
<path d="M162 447L156 448L132 445L122 440L108 431L103 424L95 406L92 384L93 378L107 334L111 326L114 318L118 300L126 284L132 268L138 260L146 253L150 251L154 252L158 256L169 274L176 304L188 318L199 344L205 362L209 382L206 406L201 418L193 430L187 438L182 439L180 441L174 442L172 443L166 444L162 447" stroke="#3428dc"/>
<path d="M264 437L258 436L256 438L250 438L240 436L234 431L226 427L223 422L223 418L225 412L238 398L238 384L242 374L246 370L253 366L272 358L294 350L303 348L316 347L326 343L333 344L338 346L354 346L358 348L364 354L368 360L366 364L354 376L340 386L326 394L324 402L316 411L310 415L296 423L281 428L276 430L272 434L269 434L264 437" stroke="#dc2a2e"/>
<path d="M156 447L140 446L130 443L122 439L108 429L105 424L97 406L93 384L94 378L107 336L110 330L116 324L122 302L130 286L135 272L138 268L142 265L152 262L158 265L164 274L168 282L173 304L183 314L187 320L197 342L203 358L208 382L206 402L203 410L197 422L187 436L180 441L174 441L172 443L166 444L164 446L158 446L156 447" stroke="#3428dc"/>
<path d="M256 437L250 438L240 436L234 429L228 426L226 423L226 414L232 406L242 398L254 392L266 388L274 385L290 383L302 383L310 386L318 390L322 394L323 398L322 402L310 414L290 424L282 426L272 433L264 436L258 436L256 437" stroke="#dc2a2e"/>
<path d="M156 447L142 445L130 441L122 437L110 428L106 422L97 404L95 384L103 354L109 336L111 332L120 321L126 304L134 289L139 276L142 272L148 269L154 271L159 276L163 284L169 302L182 314L187 322L197 344L203 362L207 382L203 406L197 420L187 434L180 440L174 441L172 442L166 443L164 445L158 446L156 447" stroke="#3428dc"/>
<path d="M256 437L250 438L240 435L236 432L235 428L235 426L236 424L233 420L233 414L237 408L243 402L260 393L282 387L300 387L308 390L313 394L315 398L315 402L311 408L306 412L285 424L272 433L264 436L258 436L256 437" stroke="#dc2a2e"/>
<path d="M156 446L140 443L132 441L122 435L111 426L107 420L99 404L96 386L96 382L103 358L111 336L120 324L144 282L148 278L152 279L156 283L160 289L164 300L178 312L186 322L195 342L201 360L206 382L203 400L201 408L197 418L187 432L183 436L178 439L166 443L164 445L156 446" stroke="#3428dc"/>
<path d="M254 437L250 437L240 435L236 430L236 426L240 422L242 422L240 416L241 412L248 403L262 395L280 391L296 391L302 393L306 396L308 400L306 406L300 412L290 418L290 420L286 423L270 433L264 436L258 435L254 437" stroke="#dc2a2e"/>
<path d="M162 444L154 445L136 441L128 437L116 428L109 420L101 406L99 400L98 390L99 380L105 356L111 338L120 326L128 313L137 306L146 294L150 292L152 292L156 295L159 300L164 302L172 308L183 320L193 342L201 362L204 382L203 394L201 402L197 414L194 420L185 432L180 437L162 444Z" fill="#2a1cec" stroke="#2a1cec"/>
<path d="M254 437L250 437L240 434L238 432L237 428L238 425L249 418L247 416L247 412L249 408L253 404L266 397L278 394L292 395L300 398L301 400L301 404L296 410L288 415L288 421L270 433L264 435L258 435L254 437" stroke="#dc2a2e"/>
<path d="M162 442L154 443L145 442L138 440L126 434L114 424L108 416L102 405L100 399L100 394L100 382L103 372L108 351L114 336L121 328L128 316L132 312L138 308L154 302L158 302L166 306L176 314L182 322L192 342L200 364L202 382L202 392L200 401L196 412L192 420L184 430L178 436L162 442Z" fill="#2a1cec" stroke="#2a1cec"/>
<path d="M254 436L250 437L240 433L237 428L238 426L244 421L248 420L255 416L253 412L257 406L264 402L274 398L284 398L292 400L294 402L294 406L290 410L283 414L286 416L288 420L270 432L264 435L258 434L254 436" stroke="#dc2a2e"/>
<path d="M162 438L154 439L144 438L136 435L126 429L117 420L108 408L104 400L102 392L103 384L106 376L111 354L116 340L134 316L142 311L154 308L160 309L168 313L174 318L180 326L190 346L195 362L197 368L199 382L199 390L197 398L193 410L190 416L180 428L176 432L170 435L162 438Z" fill="#2a1cec" stroke="#2a1cec"/>
<path d="M254 435L250 436L240 432L239 428L240 426L244 422L248 421L260 414L260 410L261 408L266 404L278 401L286 403L287 404L287 406L286 408L278 414L284 416L286 418L286 420L270 431L264 433L258 433L254 435" stroke="#dc2a2e"/>
<path d="M158 434L150 434L142 433L134 429L128 425L121 418L111 404L108 398L106 392L107 384L110 376L115 354L119 344L136 321L142 317L152 314L160 315L166 318L172 323L178 330L188 354L193 368L195 384L192 400L190 408L186 414L178 424L172 429L164 433L158 434Z" fill="#2a1cec" stroke="#2a1cec"/>
<path d="M276 410L270 411L267 410L268 408L272 405L278 405L281 406L280 408L276 410Z" fill="#e40808" stroke="#e40808"/>
<path d="M252 432L250 433L249 432L245 426L252 421L260 417L274 416L278 418L280 420L276 425L270 429L252 432Z" fill="#e40808" stroke="#e40808"/>
<path d="M162 428L156 430L148 429L140 427L132 423L126 418L120 410L113 400L111 392L111 384L116 368L119 354L122 348L138 326L144 322L152 320L158 320L164 323L170 328L175 334L184 354L191 382L189 398L184 410L172 423L162 428Z" fill="#2a1cec" stroke="#2a1cec"/>
<path d="M262 429L254 429L251 428L251 426L254 422L260 420L268 419L273 420L273 422L272 424L268 427L262 429Z" fill="#e40808" stroke="#e40808"/>
<path d="M158 424L152 425L144 423L136 420L130 416L126 412L120 404L117 396L115 390L116 382L123 356L126 350L140 331L146 327L152 326L158 326L162 328L168 334L172 339L181 358L187 384L185 400L181 408L170 420L164 423L158 424Z" fill="#2a1cec" stroke="#2a1cec"/>
<path d="M262 426L256 426L256 424L262 422L268 422L267 424L262 426Z" fill="#e40808" stroke="#e40808"/>
<path d="M162 418L156 420L148 419L140 417L134 414L129 410L125 404L121 396L120 390L120 382L129 354L140 338L144 335L150 332L156 333L160 335L164 338L169 344L177 360L183 382L182 394L179 404L172 412L162 418Z" fill="#2a1cec" stroke="#2a1cec"/>
<path d="M158 414L152 415L146 414L140 413L135 410L129 402L125 394L124 388L124 384L125 378L133 356L142 343L146 340L150 339L154 339L160 342L167 350L175 364L180 382L179 392L175 402L168 410L158 414Z" fill="#2a1cec" stroke="#2a1cec"/>
<path d="M154 410L144 409L136 405L130 396L128 384L131 372L137 358L144 349L148 346L152 345L156 346L160 349L167 358L173 370L176 384L174 394L170 402L164 407L154 410Z" fill="#2a1cec" stroke="#2a1cec"/>
<path d="M158 405L150 406L142 403L138 400L135 396L132 386L133 378L139 364L146 355L152 352L158 354L164 360L169 370L172 382L172 390L169 396L164 402L158 405Z" fill="#2a1cec" stroke="#2a1cec"/>
<path d="M158 400L150 401L144 399L139 394L136 386L137 378L141 368L146 362L152 358L156 359L162 365L166 372L169 382L168 388L166 393L162 398L158 400Z" fill="#2a1cec" stroke="#2a1cec"/>
<path d="M156 396L150 396L146 395L142 390L140 384L141 378L144 372L148 367L152 365L156 366L160 370L163 376L165 382L165 386L163 390L160 394L156 396Z" fill="#2a1cec" stroke="#2a1cec"/>
<path d="M154 392L150 392L148 390L146 388L145 384L147 376L150 372L152 371L154 371L158 374L161 382L160 388L158 390L154 392Z" fill="#2a1cec" stroke="#2a1cec"/>
<path d="M156 386L154 388L152 388L150 386L149 384L150 380L152 377L154 377L156 380L157 384L156 386Z" fill="#2a1cec" stroke="#2a1cec"/>
<circle cx="152" cy="345" r="2.1" fill="#fff" fill-opacity="0.75"/><circle cx="155" cy="355" r="2.2" fill="#fff" fill-opacity="0.75"/><circle cx="150" cy="363" r="2.4" fill="#fff" fill-opacity="0.75"/><circle cx="152" cy="373" r="2.6" fill="#fff" fill-opacity="0.75"/><circle cx="157" cy="383" r="2.1" fill="#fff" fill-opacity="0.75"/>
</g></g>
<g transform="translate(78.7,408.6) scale(0.25327,0.25104)">
<clipPath id="cp10"><rect x="0" y="0" width="520" height="480"/></clipPath>
<g clip-path="url(#cp10)" fill="none" stroke-width="3.00" stroke-linejoin="round">
<path d="M63 -2 L380 -2 L380 12 Q330 17 280 15 Q230 17 180 13 Q130 15 100 10 Q80 8 63 4Z" fill="#111" stroke="#111"/><path d="M380 -2 L520 -2 L520 4 Q450 6 380 5Z" fill="#111" stroke="#111"/><path d="M380 12 Q420 18 470 14 Q500 12 518 20" stroke="#111" stroke-width="3"/><path d="M385 22 Q430 28 500 22" stroke="#333" stroke-width="2.5"/><path d="M517 0 L524 0 L524 90 L517 80Z" fill="#222" stroke="#222"/>
<path d="M524 19L512 18" stroke="#1a1a1a"/>
<path d="M512 18L446 18L442 20L441 22L441 26L440 28L437 38L440 46L440 50L439 62L440 76L438 86L438 88L442 92L442 98L443 100L443 106L445 112L445 118L453 126L454 129L458 132L458 134L463 138L463 140L467 144L467 150L460 160L458 166L452 166L450 168L444 169L438 173L428 170L426 172L426 180L424 182L425 198L422 200L425 202L425 222L427 224L426 238L426 244L425 246L425 258L418 264L418 266L414 270L398 286L394 292L394 294L385 304L385 306L382 310L372 317L352 340L348 343L346 342L344 344L340 349L338 349L334 353L332 353L330 356L330 358L328 360L324 360L318 364L316 364L308 371L302 373L298 377L296 377L294 379L288 381L282 385L278 385L272 388L268 388L266 390L262 391L254 397L240 413L234 415L232 417L224 420L222 420L220 422L218 422L216 425L212 428L210 428L208 430L204 431L202 430L194 432L186 432L170 434L168 436L156 436L154 438L150 438" stroke="#dc2a2e"/>
<path d="M150 438L146 439L144 440L136 439L134 440L134 443L130 443L128 445L122 445L120 447L117 448L114 451L108 450L106 452L92 451L90 449L84 448L80 446L76 446L70 443L68 443L64 438L63 438L63 436L58 430L48 422L48 414L50 410L49 402L50 398L52 396L52 388L54 386L54 378L55 376L55 368L57 366L58 358L63 352L63 348L60 342L62 340L62 330L64 328L65 326L63 316L65 314L66 306L69 302L66 290L66 268L69 258L67 246L68 210L70 208L70 188L72 186L73 182L72 166L74 164L75 154L76 152L75 144L77 142L78 132L80 130L80 122L82 121L87 114" stroke="#3428dc"/>
<path d="M87 114L88 112L93 106L94 102L94 98L96 96L96 92L94 90L95 86L93 78L88 71L88 68L86 66L94 58L104 53L104 44L108 32L106 26L92 13L88 12L86 10L87 0" stroke="#1a1a1a"/>
<path d="M203 274L203 272L207 268L210 262L213 258L215 252L216 250L216 246L218 244L218 240L221 238L221 234L223 232L224 222L222 220L221 216L219 214L218 210L216 208L212 200L200 186" stroke="#dc2a2e"/>
<path d="M200 186L197 184L197 174L195 172L195 162L193 160L195 158L195 146L197 144L197 130L199 128L199 114" stroke="#3428dc"/>
<path d="M199 114L201 112" stroke="#1a1a1a"/>
<path d="M201 112L202 100L205 94L204 90L205 88L205 84L207 82L207 78L209 76L210 70L212 70L226 56L226 44L225 30L218 23L216 22L213 18L210 17L200 19" stroke="#dc2a2e"/>
<path d="M200 19L162 18L156 22L154 22L152 24L150 24L146 30L146 44L143 46L144 60L142 68L143 76L146 78L144 84L145 88L146 97L160 110L159 116" stroke="#1a1a1a"/>
<path d="M159 116L160 142L166 148L167 152L174 160L174 166L173 168L173 178L171 180L172 190L170 200L172 202L171 212L174 216L174 220L176 222L176 224L180 230L179 232L181 236L182 238L184 238L184 240L187 242L187 244L189 246L189 248L191 250L190 254L191 258L199 270L198 274L200 276L202 275" stroke="#3428dc"/>
<path d="M202 275L203 274" stroke="#dc2a2e"/>
<path d="M452 230L442 230L438 226L438 224L435 222L435 218L437 216L437 214L442 209L452 209L457 214L456 216L458 218L458 222L452 230" stroke="#dc2a2e"/>
<path d="M322 0L328 9L335 12" stroke="#1a1a1a"/>
<path d="M335 12L342 13L352 22L362 27L368 34L380 44L382 50L378 66L379 70L387 78L396 83L400 86L403 92L404 102L405 106L413 112L413 116L409 124L410 134L408 144L408 146L416 152L419 160L419 190L416 200L421 220L420 225L414 228L413 230L413 234L415 240L422 246L423 250L422 256L416 261L412 268L397 284L382 309L378 312L372 315L364 326L351 340L348 342L344 341L342 344L340 348L338 348L334 352L332 353L326 359L324 359L320 362L314 364L308 369L302 372L294 378L284 383L282 385L278 385L276 386L272 387L268 387L262 390L253 396L248 404L240 412L232 413L232 416L224 420L218 420L216 424L212 428L204 430L194 428L174 428L160 425L150 435" stroke="#dc2a2e"/>
<path d="M150 435L142 439L134 438L128 444L122 444L120 446L116 447L114 449L108 449L106 451L92 450L90 448L84 446L78 442L62 412L58 407L52 412L51 410L49 404L50 400L55 396L53 392L53 390L58 384L57 378L57 374L58 373L61 372L62 366L67 346L70 320L73 312L74 298L75 296L76 288L81 274L84 254L85 250L86 244L87 242L88 236L95 222L96 218L98 216L98 212L100 208L106 202L110 200L115 200L122 204L130 206L134 210L136 220L140 226L145 240L156 263L157 282L158 284L159 290L160 292L160 298L162 302" stroke="#3428dc"/>
<path d="M162 302L165 318L166 320L167 330L168 332L169 340L172 346L172 342L174 340L176 340L180 334L184 334L192 329L200 320L206 314L207 312L207 308L201 294L202 288L206 274L209 270L214 260L214 256L217 250L217 246L219 244L219 240L221 238L222 234L224 232L224 222L222 216L220 214L219 210L217 208L216 204L200 184" stroke="#dc2a2e"/>
<path d="M200 184L198 180L198 174L197 172L198 162L198 148L199 144L200 132L201 130" stroke="#3428dc"/>
<path d="M201 130L203 116L205 112L205 104L208 96L207 86L209 80L214 72L228 58L231 44L231 32L236 22L240 19L250 16L254 10" stroke="#dc2a2e"/>
<path d="M254 10L256 5L265 0" stroke="#1a1a1a"/>
<path d="M281 0L284 3L288 2L290 0" stroke="#1a1a1a"/>
<path d="M306 0L309 0" stroke="#1a1a1a"/>
<path d="M426 141L422 142L418 140L415 136L415 134L416 132L420 131L427 132L429 136L428 139L426 141" stroke="#dc2a2e"/>
<path d="M60 421L58 422L56 420L56 418L58 416L61 418L61 420L60 421" stroke="#3428dc"/>
<path d="M114 445L102 445L96 443L88 439L83 434L79 428L76 428L73 426L69 420L68 416L61 410L58 405L54 409L52 410L50 404L51 400L52 399L56 399L58 401L60 400L64 396L62 394L60 395L56 395L54 392L55 388L59 386L60 384L57 376L58 374L60 375L62 378L64 378L66 376L67 370L74 343L77 326L80 316L83 296L92 274L93 262L99 252L106 244L110 243L118 243L126 247L134 254L141 272L144 292L151 308" stroke="#3428dc"/>
<path d="M151 308L161 338L164 354L166 355L167 348L168 347L169 348L172 348L174 346L173 344L174 341L178 341L180 342L178 340L178 338L182 335L187 338L191 338L194 335L200 332L208 332L212 336L212 338L216 338L230 326L233 318L236 306L239 298L240 294L239 286L231 274L230 268L232 266L239 264L241 260L240 257L238 255L234 253L228 253L226 251L224 242L226 220L224 214L218 208L218 204L221 196L221 192L216 180L221 168L219 158L222 146L223 136L228 124L230 112L236 100L237 90L244 80L247 68L255 62L260 54L264 51L276 50L281 46L284 44L288 46L292 49L296 50L306 50L310 56L319 64L322 75L330 76L334 78L335 82L335 92L338 104L348 122L353 126L354 128L354 134L352 148L357 156L358 170L364 180L363 184L359 192L361 196L365 202L366 208L364 212L358 215L357 216L361 234L356 260L354 263L346 266L340 275L340 278L342 280L344 279L348 274L352 273L356 274L358 276L362 291L371 302L371 308L364 320L348 338L344 340L338 346L330 351L326 356L300 371L296 374L281 382L248 392L240 395L238 398L238 400L240 406L236 410L234 410L232 412L231 416L228 418L218 420L216 424L212 428L204 430L200 429L194 426L192 426L190 428L186 428L181 422L177 420L176 420L172 421L170 418L166 416L164 414L166 410L166 406L164 406L159 410L150 421" stroke="#dc2a2e"/>
<path d="M150 421L147 428L142 434L138 434L134 435L126 441L114 445" stroke="#3428dc"/>
<path d="M192 336L189 334L192 333L194 334L192 336" stroke="#dc2a2e"/>
<path d="M58 420L58 418L59 420L58 420" stroke="#3428dc"/>
<path d="M108 438L102 439L96 437L82 428L76 427L74 426L70 420L68 414L64 412L60 408L59 404L64 398L64 392L62 392L58 395L55 392L55 390L60 386L61 380L66 378L68 370L71 366L71 362L74 358L89 298L96 284L100 272L104 268L118 260L122 260L126 262L127 266L127 272L133 282L143 306L150 326" stroke="#3428dc"/>
<path d="M150 326L156 338L158 358L160 359L166 356L167 350L168 348L173 348L175 346L175 342L176 342L180 344L181 342L179 340L178 338L182 335L186 338L193 338L200 333L206 333L209 334L213 340L218 341L226 348L226 349L230 346L240 342L244 338L254 316L256 304L254 292L260 284L260 280L253 268L250 258L243 246L239 236L231 226L232 222L234 212L232 196L232 164L233 158L238 148L234 138L234 132L244 110L255 92L258 88L265 84L272 73L276 70L282 70L304 79L310 85L319 90L320 102L325 108L334 122L335 138L339 148L340 165L345 178L341 190L341 202L339 212L340 216L343 222L343 226L334 234L328 243L327 250L331 256L331 260L325 266L323 272L325 280L330 288L334 290L343 292L345 294L342 297L334 298L332 300L333 306L337 312L339 316L339 320L334 326L335 336L334 338L326 342L321 350L316 353L302 357L294 364L281 364L277 366L272 370L264 370L261 372L256 379L240 382L242 388L238 397L238 400L240 406L236 410L232 411L231 414L228 418L220 418L217 420L216 424L212 428L204 430L196 426L192 425L190 427L186 428L182 424L182 422L176 419L174 418L172 419L166 416L165 414L167 408L162 402L161 402L156 406L155 410L150 416" stroke="#dc2a2e"/>
<path d="M150 416L147 422L147 426L142 432L140 432L139 430L142 426L140 425L140 428L138 429L132 430L118 437L114 437L108 438" stroke="#3428dc"/>
<path d="M192 335L191 334L192 333L193 334L192 335" stroke="#dc2a2e"/>
<path d="M54 408L52 409L50 404L51 400L54 399L58 402L57 404L54 408" stroke="#3428dc"/>
<path d="M280 354L271 352L268 348L267 340L270 332L270 330L263 322L261 310L261 302L263 296L270 285L279 274L275 268L270 258L256 251L251 246L248 240L247 228L243 220L239 170L240 164L244 154L245 148L241 134L244 130L250 126L252 122L255 112L266 100L270 97L284 92L290 87L294 86L300 88L304 96L318 112L316 125L318 130L323 136L326 148L330 158L331 166L328 180L333 192L331 196L326 202L329 212L328 216L320 224L318 228L318 234L319 242L318 248L308 257L304 264L303 268L304 272L314 284L321 300L322 308L319 326L315 332L304 341L294 346L286 352L280 354" stroke="#dc2a2e"/>
<path d="M118 434L116 430L102 433L94 430L92 431L86 429L80 425L76 427L71 420L69 414L64 411L61 408L61 404L65 396L64 390L62 390L60 393L58 394L55 392L56 389L61 386L62 382L67 378L69 370L73 366L73 360L79 354L93 302L98 293L106 285L112 284L122 287L126 291L132 299L137 308L142 326L149 340L150 352" stroke="#3428dc"/>
<path d="M150 352L155 366L156 377L158 377L160 368L158 362L162 358L166 357L168 350L174 348L176 343L181 344L182 342L179 340L179 338L180 337L182 336L186 338L194 338L200 333L204 333L207 334L208 337L212 340L216 341L220 343L232 356L236 357L238 358L240 364L237 370L238 372L243 376L243 378L239 382L241 388L238 395L237 400L239 406L236 410L232 410L231 414L228 417L219 418L216 420L215 424L212 428L204 430L192 425L188 428L186 428L182 422L176 418L172 416L168 416L166 415L165 414L168 410L168 407L158 399L154 402L155 408L150 414" stroke="#dc2a2e"/>
<path d="M150 414L148 418L144 422L140 424L137 428L134 429L130 426L128 426L124 432L118 434" stroke="#3428dc"/>
<path d="M252 350L250 350L250 348L252 347L253 348L252 350" stroke="#dc2a2e"/>
<path d="M54 407L52 408L51 406L51 402L52 400L54 400L56 402L54 407" stroke="#3428dc"/>
<path d="M228 410L227 410L228 410" stroke="#dc2a2e"/>
<path d="M288 262L284 262L282 260L278 253L267 248L261 242L257 226L250 218L248 214L249 202L245 182L246 172L250 156L250 140L251 136L260 122L269 112L274 104L278 101L282 100L286 101L292 107L304 113L309 118L313 132L317 142L319 154L324 164L324 168L323 180L323 190L319 196L318 200L320 214L314 222L308 236L302 243L292 260L288 262" stroke="#dc2a2e"/>
<path d="M292 336L286 335L277 324L269 318L266 312L266 306L268 298L276 288L282 284L296 280L302 282L308 287L313 296L315 304L312 314L311 326L306 330L292 336" stroke="#dc2a2e"/>
<path d="M124 431L120 432L116 427L108 429L102 429L94 427L92 428L86 428L83 426L80 422L78 425L76 425L72 418L71 414L64 410L61 406L62 404L65 400L66 396L65 390L62 386L63 384L64 382L68 380L69 378L70 371L75 368L76 366L74 362L75 360L77 360L78 365L80 364L81 360L80 358L78 358L79 356L82 354L99 302L104 296L108 295L110 296L117 304L124 307L128 310L130 314L132 328L141 342L150 366" stroke="#3428dc"/>
<path d="M150 366L156 394L152 402L154 408L150 412" stroke="#dc2a2e"/>
<path d="M150 412L148 417L140 422L136 428L132 427L130 424L128 423L126 424L124 431" stroke="#3428dc"/>
<path d="M206 429L204 429L192 424L188 428L186 427L182 422L172 414L168 416L166 414L168 411L168 406L156 396L156 394L159 390L156 386L156 380L158 378L160 371L159 362L162 359L166 357L169 350L174 348L178 345L182 344L182 342L179 338L180 337L182 336L186 339L194 338L198 335L202 333L205 334L206 339L218 342L222 346L230 356L236 358L238 360L238 364L236 368L236 370L242 376L242 378L239 382L240 384L240 390L238 393L237 400L239 406L236 409L232 410L228 409L226 410L226 411L229 412L230 414L229 416L226 418L218 418L216 420L212 427L206 429" stroke="#dc2a2e"/>
<path d="M58 393L57 392L57 390L60 389L60 391L58 393" stroke="#3428dc"/>
<path d="M54 406L52 406L52 401L55 402L54 406" stroke="#3428dc"/>
<path d="M278 243L274 243L270 240L268 236L267 226L256 214L256 210L257 202L252 188L251 178L255 154L258 146L259 136L262 130L266 127L274 124L286 116L290 115L302 121L305 124L306 128L304 136L312 152L314 163L318 172L318 178L317 184L312 194L312 210L305 228L300 232L278 243" stroke="#dc2a2e"/>
<path d="M296 322L290 323L286 321L276 314L273 310L273 304L277 296L279 292L284 289L290 288L300 291L304 294L306 297L306 304L303 318L300 321L296 322" stroke="#dc2a2e"/>
<path d="M122 430L116 425L106 428L94 424L90 427L86 427L85 426L82 420L76 417L72 411L64 409L63 406L67 398L65 386L66 384L70 383L74 379L74 378L71 374L72 373L82 366L86 352L96 327L100 322L108 317L116 315L121 318L126 330L135 344L146 366L150 390" stroke="#3428dc"/>
<path d="M150 390L153 396L151 402L152 408L150 410" stroke="#dc2a2e"/>
<path d="M150 410L146 406L143 408L142 410L148 412L147 416L138 421L136 426L134 427L130 421L126 422L124 428L122 430" stroke="#3428dc"/>
<path d="M206 428L200 428L192 424L188 427L186 427L182 421L169 412L168 406L156 396L156 394L160 390L160 388L157 386L156 384L160 373L160 362L162 360L166 358L170 350L182 344L183 342L180 338L182 337L186 339L194 338L200 334L203 334L206 340L220 344L230 356L237 360L237 364L236 366L236 371L242 376L242 378L238 382L240 384L240 388L238 392L238 398L236 400L238 406L237 408L234 410L232 409L230 407L228 408L226 410L226 412L229 414L228 416L226 417L218 418L214 422L212 427L206 428" stroke="#dc2a2e"/>
<path d="M168 415L167 414L168 413L169 414L168 415" stroke="#dc2a2e"/>
<path d="M296 222L290 216L276 214L273 212L269 204L263 196L259 186L260 180L262 172L260 160L260 156L265 148L270 136L278 131L284 129L288 130L290 132L296 142L304 152L306 158L304 166L304 169L310 177L311 180L303 198L297 202L295 204L295 212L298 220L296 222" stroke="#dc2a2e"/>
<path d="M122 428L117 424L106 427L94 422L92 422L88 426L87 426L85 424L85 420L78 416L76 410L70 407L66 408L65 406L68 404L69 402L68 388L72 386L78 380L80 372L84 370L89 356L96 340L100 334L104 330L108 328L114 328L120 333L130 348L142 369L147 392L151 396" stroke="#3428dc"/>
<path d="M151 396L150 399" stroke="#dc2a2e"/>
<path d="M150 399L147 404L140 408L136 416L124 420L122 428" stroke="#3428dc"/>
<path d="M204 428L192 423L190 424L188 427L186 427L183 422L170 412L168 405L157 396L157 394L160 390L160 388L157 384L160 374L161 362L168 357L168 352L170 350L183 344L184 340L196 338L200 335L202 334L204 336L205 340L220 345L230 357L236 360L237 362L236 366L236 372L241 376L241 378L238 380L240 388L236 392L238 396L236 400L238 406L236 408L234 409L232 409L230 404L230 406L225 410L226 413L229 414L228 416L226 417L217 418L214 421L214 424L212 426L204 428" stroke="#dc2a2e"/>
<path d="M182 340L180 338L182 337L184 338L182 340" stroke="#dc2a2e"/>
<path d="M77 392L77 388L74 387L73 388L73 392L76 393L77 392" stroke="#3428dc"/>
<path d="M144 415L143 414L146 414L144 415" stroke="#3428dc"/>
<path d="M284 206L280 204L276 199L270 194L268 190L268 186L272 176L270 158L274 149L276 147L282 151L290 153L294 156L296 160L296 174L300 182L298 190L291 196L287 204L284 206" stroke="#dc2a2e"/>
<path d="M287 186L288 184L288 181L286 180L284 180L282 182L283 184L284 186L287 186" stroke="#dc2a2e"/>
<path d="M210 427L202 427L190 423L188 426L186 426L184 422L170 410L168 404L157 396L161 390L161 388L158 384L158 378L161 372L161 362L168 358L169 352L170 351L180 346L186 340L196 339L200 335L203 336L203 340L212 343L216 346L220 346L230 357L235 360L236 372L241 376L241 378L238 380L240 388L236 392L237 396L235 400L235 402L238 404L238 406L234 409L231 406L230 403L225 410L225 412L227 414L227 416L216 418L214 420L213 424L210 427" stroke="#dc2a2e"/>
<path d="M182 339L181 338L182 337L183 338L182 339" stroke="#dc2a2e"/>
<path d="M106 424L100 423L92 420L88 420L80 416L79 414L79 412L82 408L80 406L74 405L72 402L72 398L78 393L82 384L81 378L86 376L89 364L94 355L102 344L108 341L112 342L118 350L126 356L129 360L138 374L141 382L144 386L145 392L148 398L147 402L140 406L134 415L128 416L118 422L106 424" stroke="#3428dc"/>
<path d="M210 427L202 427L190 422L188 426L186 426L184 421L180 419L170 410L168 404L158 396L158 394L161 390L158 382L162 368L162 362L168 358L170 351L181 346L186 341L196 340L200 336L202 337L202 340L210 343L216 347L220 346L230 358L235 360L235 362L234 366L235 372L240 376L240 378L237 380L239 388L235 392L237 396L234 402L237 404L237 406L236 408L233 408L231 406L234 402L230 402L224 410L226 414L225 416L218 417L216 418L213 422L213 424L210 427" stroke="#dc2a2e"/>
<path d="M118 420L114 421L106 419L100 421L92 418L84 416L81 414L84 408L83 406L80 403L75 402L75 400L84 386L85 380L90 375L94 364L98 360L102 358L106 357L114 359L122 362L130 374L132 376L134 377L139 384L140 388L138 390L145 398L145 400L144 402L138 406L134 413L128 414L118 420" stroke="#3428dc"/>
<path d="M200 339L200 337L201 338L200 339" stroke="#dc2a2e"/>
<path d="M208 426L202 426L190 421L189 422L188 425L186 425L184 420L180 419L178 417L171 410L168 403L159 396L159 394L162 390L162 388L159 384L159 382L159 378L162 370L163 362L169 358L170 352L182 346L186 341L198 340L210 344L216 348L220 347L223 352L226 354L230 359L234 361L235 362L233 366L235 372L239 376L239 378L236 380L239 386L239 388L235 392L237 396L236 397L234 400L230 401L225 408L224 410L225 414L224 415L218 416L216 417L212 422L212 425L208 426" stroke="#dc2a2e"/>
<path d="M116 418L106 417L98 418L92 415L85 414L86 408L81 400L82 394L85 388L87 382L94 373L98 369L102 367L116 367L124 372L125 374L125 378L128 382L132 382L134 384L133 390L140 400L135 402L134 409L132 411L126 413L116 418" stroke="#3428dc"/>
<path d="M236 407L234 408L232 406L234 403L237 404L236 407" stroke="#dc2a2e"/>
<path d="M210 424L198 424L188 419L180 418L172 410L170 404L168 402L159 396L160 394L163 390L163 388L160 384L159 382L160 378L163 374L164 364L169 360L171 352L182 347L186 344L186 342L196 342L208 344L216 349L220 350L221 352L226 355L230 360L233 362L233 368L234 372L238 376L238 378L235 380L238 386L238 388L235 390L234 392L236 396L234 399L230 400L224 408L223 410L224 414L218 415L210 422L211 424L210 424Z" fill="#e40808" stroke="#e40808"/>
<path d="M120 414L98 414L91 410L85 402L85 398L89 392L88 386L90 382L92 380L96 382L99 376L102 373L106 372L112 373L122 383L128 386L129 388L132 396L131 402L132 408L130 410L120 414" stroke="#3428dc"/>
<path d="M166 376L165 376L166 377L166 376Z" fill="#e40808" stroke="#e40808"/>
<path d="M236 406L233 406L234 404L236 404L236 406Z" fill="#e40808" stroke="#e40808"/>
<path d="M188 424L186 424L186 422L188 424Z" fill="#e40808" stroke="#e40808"/>
<path d="M198 421L196 422L194 421L186 415L182 416L180 415L176 410L173 408L172 406L170 398L165 392L164 386L161 382L162 379L166 380L169 378L169 374L166 370L166 368L168 364L176 356L178 352L182 349L192 348L196 345L198 344L210 347L216 351L223 358L224 362L230 365L233 372L234 382L237 386L236 388L232 390L232 392L234 396L228 399L223 406L221 412L220 413L216 412L214 416L210 419L208 419L204 416L202 416L200 418L198 421Z" fill="#e40808" stroke="#e40808"/>
<path d="M120 411L116 412L102 411L98 410L94 406L92 400L93 394L98 388L104 379L106 378L116 381L126 390L126 398L128 406L124 407L120 411" stroke="#3428dc"/>
<path d="M196 418L194 418L188 413L183 412L180 406L176 406L174 405L172 397L168 390L170 386L170 382L172 374L170 368L170 366L174 361L179 358L182 354L198 347L200 347L206 351L216 354L221 362L227 366L229 370L228 376L232 380L233 384L232 386L230 386L228 389L228 396L226 398L214 409L213 414L212 416L210 417L208 416L206 414L202 412L197 416L196 418Z" fill="#e40808" stroke="#e40808"/>
<path d="M234 386L233 386L234 386Z" fill="#e40808" stroke="#e40808"/>
<path d="M118 409L114 410L102 407L97 404L97 400L99 396L98 394L104 388L106 387L116 387L122 392L123 402L118 409" stroke="#3428dc"/>
<path d="M210 415L206 412L202 410L200 410L196 413L194 413L190 409L186 410L182 403L176 403L175 402L172 390L173 380L175 374L174 366L176 362L182 361L192 352L198 351L206 354L210 357L216 358L223 368L222 372L225 376L226 380L230 382L228 383L225 390L224 396L223 398L217 404L212 407L211 414L210 415Z" fill="#e40808" stroke="#e40808"/>
<path d="M116 406L108 405L103 402L103 396L106 392L114 391L118 394L120 400L118 404L116 406" stroke="#3428dc"/>
<path d="M206 408L200 408L196 409L192 406L186 405L184 402L180 398L175 392L175 382L178 376L178 370L179 366L194 354L204 356L214 361L219 366L219 372L223 378L224 384L222 394L216 401L210 402L208 407L206 408Z" fill="#e40808" stroke="#e40808"/>
<path d="M114 403L110 403L108 402L107 398L109 396L114 396L116 398L116 400L114 403" stroke="#3428dc"/>
<path d="M204 404L198 405L194 404L186 399L178 392L177 390L179 386L178 382L180 376L182 368L188 361L194 358L196 358L202 362L210 362L214 365L216 367L218 374L222 380L222 382L219 386L220 392L216 395L213 398L209 400L204 404Z" fill="#e40808" stroke="#e40808"/>
<path d="M196 402L192 398L188 396L183 390L183 388L183 376L188 368L191 366L194 361L210 367L213 370L216 376L215 382L216 388L211 396L196 402Z" fill="#e40808" stroke="#e40808"/>
<path d="M204 396L200 397L192 394L190 393L185 386L186 376L190 371L196 366L204 369L210 372L213 376L214 386L213 388L204 396Z" fill="#e40808" stroke="#e40808"/>
<path d="M204 392L202 394L200 394L194 391L188 384L189 378L191 374L194 372L198 371L202 372L205 374L209 378L210 384L210 386L204 392Z" fill="#e40808" stroke="#e40808"/>
<path d="M202 389L200 390L196 389L191 382L193 378L198 375L202 375L205 380L205 384L202 389Z" fill="#e40808" stroke="#e40808"/>
<path d="M200 386L198 386L196 384L195 382L196 380L198 379L200 378L202 381L202 384L200 386Z" fill="#e40808" stroke="#e40808"/>

</g></g>
<g transform="translate(229.5,408.6) scale(0.25327,0.25104)">
<clipPath id="cp11"><rect x="0" y="0" width="520" height="480"/></clipPath>
<g clip-path="url(#cp11)" fill="none" stroke-width="3.00" stroke-linejoin="round">
<ellipse cx="118" cy="0" rx="48" ry="26" stroke="#111"/><ellipse cx="118" cy="0" rx="30" ry="21" fill="#111" stroke="#111"/><path d="M202 2 Q232 9 262 2" stroke="#111" stroke-width="2.5"/>
<path d="M145 0L146 10L145 32L146 42L146 58L148 61L148 82L154 92L156 101" stroke="#1a1a1a"/>
<path d="M156 101L161 112L164 116L166 116L166 126L164 134L166 142L165 152L167 166L169 168L169 174L171 176L170 182L172 184L172 190L174 192L172 198L174 200L177 200L178 203L182 202L186 203L186 212L188 214L187 230L189 236L189 252L192 256L193 272L195 274L193 292L196 295L197 302L197 308L195 310L194 322L192 324L193 330" stroke="#3428dc"/>
<path d="M193 330L192 338L194 338L196 335L198 335L200 334L202 334L204 332L208 332L223 328" stroke="#dc2a2e"/>
<path d="M223 328L226 327L228 325L234 326L242 324L254 312L260 311L262 309L268 310L270 308L272 308L278 316L288 322L280 330" stroke="#3428dc"/>
<path d="M280 330L277 336L277 338L277 340L273 342L273 344L268 348L268 350L264 354L262 360L258 364L257 370L253 374L253 376L246 381L227 402L216 403L213 406L190 407" stroke="#dc2a2e"/>
<path d="M190 407L177 406L170 402L164 403L160 406L154 409L146 417L142 418L138 418L136 420L132 420L128 423L122 425L114 424L112 425L106 425L104 426L96 422L90 422L86 421L78 422L76 420L74 420L69 416L68 412L64 408L58 409L54 408L52 406L52 404L47 400L47 398L43 394L44 380L49 376L51 368L48 362L48 354L50 352L49 342L51 340L52 328L54 326L54 320L56 318L56 312L59 310L60 306L63 302L63 288L64 282L68 274L67 266L69 264L69 258L71 256L72 250L73 248L74 244L77 240L76 232L77 230L77 218L79 216L80 204L82 202L83 200L82 188L83 186L85 176L87 172L85 160L87 158L88 146L91 138L90 114L92 112L91 108L96 100" stroke="#3428dc"/>
<path d="M96 100L101 94L101 84L102 82L100 80L100 76L98 74L97 70L95 68L95 64L93 62L94 54L99 50L104 44L103 42L100 40L100 30L98 28L97 20L99 8L98 0" stroke="#1a1a1a"/>
<path d="M122 424L114 424L112 425L102 424L95 420L91 416L84 403L76 392L70 380L64 360L60 338L62 314L65 302L66 284L70 274L70 268L71 260L76 244L78 240L79 220L82 206L85 200L84 187L89 172L88 162L90 153L98 140L102 122L112 104L116 100" stroke="#3428dc"/>
<path d="M116 100L122 98L126 100L127 102" stroke="#1a1a1a"/>
<path d="M127 102L130 112L140 122L146 134L154 158L155 172L164 196L164 210L168 218L171 240L174 250L175 260L180 274L178 288L179 296L181 304L184 312L187 338L186 345L183 356L182 367L174 382L170 394L162 402L159 406L154 409L146 416L142 418L138 418L136 420L130 420L128 423L122 424" stroke="#3428dc"/>
<path d="M212 392L208 392L206 390L200 388L196 380L196 374L200 366L210 362L220 366L224 372L224 382L222 384L222 386L220 388L214 390L212 392" stroke="#dc2a2e"/>
<path d="M112 424L102 422L94 416L81 394L75 382L69 364L66 340L66 318L73 274L75 266L80 256L84 242L91 206L101 170L108 154L112 148L118 145L126 143L130 145L132 147L141 164L147 182L149 192L153 202L160 240L167 260L170 279L173 286L175 296L176 310L178 318L177 354L175 366L164 388L159 404L156 407L150 413L142 418L138 418L136 419L130 420L126 423L120 424L114 423L112 424" stroke="#3428dc"/>
<path d="M120 423L110 422L102 419L98 416L79 388L75 378L71 362L67 340L67 318L76 268L84 252L89 236L94 230L99 204L103 190L115 164L120 159L126 161L133 168L140 198L148 212L151 234L157 242L165 260L168 276L174 294L176 326L175 362L162 389L157 404L150 412L142 417L130 419L128 421L122 422L120 423" stroke="#3428dc"/>
<path d="M128 421L118 422L108 419L102 416L97 412L86 396L77 378L71 358L69 338L69 314L77 270L86 251L91 236L101 224L105 208L109 196L114 189L120 187L126 189L131 194L136 206L142 216L144 228L146 232L155 242L163 258L168 281L173 296L175 324L175 354L173 362L160 391L156 402L146 414L142 417L130 419L128 421" stroke="#3428dc"/>
<path d="M130 418L128 420L120 419L104 415L99 410L88 396L83 388L78 378L72 358L70 340L69 318L78 270L88 249L93 236L105 224L112 203L116 198L120 196L124 197L126 199L144 232L155 244L162 258L164 264L166 277L171 294L174 318L174 354L171 364L153 404L142 416L130 418" stroke="#3428dc"/>
<path d="M134 416L124 417L106 413L100 408L91 398L85 390L81 380L73 356L72 340L71 316L79 272L88 253L93 238L109 222L113 214L116 210L120 209L124 211L136 223L144 235L153 244L157 252L163 266L166 282L170 296L173 318L173 352L171 362L152 402L142 413L134 416" stroke="#3428dc"/>
<path d="M136 414L128 416L122 415L108 411L100 406L89 392L83 382L75 358L74 348L72 318L81 272L95 238L108 226L118 217L120 217L130 220L134 223L155 250L161 264L164 279L169 296L172 318L171 352L169 362L161 380L151 400L142 411L136 414" stroke="#3428dc"/>
<path d="M136 412L130 414L122 413L108 409L100 403L91 392L85 382L77 358L75 350L73 318L79 284L83 270L97 238L112 225L118 222L122 221L128 222L134 226L142 237L150 246L155 254L161 268L164 284L168 296L170 320L170 352L169 360L161 378L151 396L141 408L136 412Z" fill="#2a1cec" stroke="#2a1cec"/>
<path d="M134 410L130 411L122 410L108 406L104 404L98 398L90 388L86 380L78 357L75 322L76 310L82 279L88 262L93 252L96 244L98 240L106 232L114 226L118 224L122 224L128 224L134 228L140 238L148 246L156 260L160 270L163 286L166 296L169 318L168 352L166 362L158 380L150 393L142 404L138 408L134 410Z" fill="#2a1cec" stroke="#2a1cec"/>
<path d="M130 403L126 403L120 403L108 399L102 394L95 384L89 374L82 354L79 322L79 314L85 288L95 258L101 246L106 240L114 234L122 231L128 232L132 235L145 250L155 268L157 274L159 288L163 304L165 322L164 352L159 368L154 377L144 390L134 400L130 403Z" fill="#2a1cec" stroke="#2a1cec"/>
<path d="M124 395L116 395L110 392L102 383L94 372L87 352L83 320L85 308L89 290L99 262L105 252L110 245L116 241L122 239L128 241L136 248L151 270L153 276L155 290L161 318L161 324L158 352L156 360L153 368L149 374L140 384L130 391L124 395Z" fill="#2a1cec" stroke="#2a1cec"/>
<path d="M126 384L120 386L116 385L106 378L99 370L95 362L91 348L87 320L89 308L93 292L101 270L107 260L112 254L116 250L122 249L126 250L132 254L147 272L149 278L157 322L157 330L153 352L150 362L146 369L138 377L132 381L126 384Z" fill="#2a1cec" stroke="#2a1cec"/>
<path d="M124 376L118 376L112 373L106 369L102 364L94 340L91 318L96 294L104 274L110 266L114 261L118 259L122 258L126 259L131 262L139 270L143 276L151 308L153 322L148 352L145 360L140 367L134 372L130 375L124 376Z" fill="#2a1cec" stroke="#2a1cec"/>
<path d="M126 368L122 368L116 367L112 365L108 361L99 342L96 326L96 318L99 302L103 288L108 278L112 272L118 267L122 266L126 268L130 270L138 280L145 302L148 318L147 330L141 354L134 364L130 367L126 368Z" fill="#2a1cec" stroke="#2a1cec"/>
<path d="M124 360L120 360L116 359L110 353L103 340L100 326L100 318L103 304L105 294L114 280L118 276L122 275L128 278L135 286L141 304L144 318L143 330L137 348L132 356L128 359L124 360Z" fill="#2a1cec" stroke="#2a1cec"/>
<path d="M122 352L116 350L110 344L106 334L104 324L107 306L109 298L116 287L122 284L126 285L128 287L132 292L137 306L139 318L138 332L134 342L128 350L122 352Z" fill="#2a1cec" stroke="#2a1cec"/>
<path d="M126 343L120 344L116 341L111 334L109 324L109 318L113 302L118 294L122 293L126 295L130 300L133 308L135 318L134 326L132 334L130 338L126 343Z" fill="#2a1cec" stroke="#2a1cec"/>
<path d="M124 335L120 335L117 332L114 326L113 320L116 307L118 304L122 301L124 302L127 306L131 318L129 328L127 332L124 335Z" fill="#2a1cec" stroke="#2a1cec"/>
<path d="M122 326L119 324L118 318L119 312L122 309L125 312L126 318L125 324L122 326Z" fill="#2a1cec" stroke="#2a1cec"/>
<circle cx="126" cy="228" r="2.5" fill="#fff" fill-opacity="0.75"/><circle cx="119" cy="235" r="2.4" fill="#fff" fill-opacity="0.75"/><circle cx="123" cy="245" r="1.9" fill="#fff" fill-opacity="0.75"/><circle cx="123" cy="254" r="2.2" fill="#fff" fill-opacity="0.75"/><circle cx="121" cy="262" r="2.0" fill="#fff" fill-opacity="0.75"/><circle cx="126" cy="272" r="2.5" fill="#fff" fill-opacity="0.75"/><circle cx="122" cy="281" r="1.9" fill="#fff" fill-opacity="0.75"/><circle cx="118" cy="288" r="2.1" fill="#fff" fill-opacity="0.75"/><circle cx="121" cy="296" r="2.5" fill="#fff" fill-opacity="0.75"/><circle cx="122" cy="305" r="1.8" fill="#fff" fill-opacity="0.75"/><circle cx="121" cy="311" r="1.7" fill="#fff" fill-opacity="0.75"/><circle cx="126" cy="320" r="2.3" fill="#fff" fill-opacity="0.75"/><circle cx="125" cy="327" r="2.4" fill="#fff" fill-opacity="0.75"/><circle cx="125" cy="338" r="2.4" fill="#fff" fill-opacity="0.75"/><circle cx="121" cy="348" r="2.6" fill="#fff" fill-opacity="0.75"/><circle cx="119" cy="360" r="2.4" fill="#fff" fill-opacity="0.75"/><circle cx="122" cy="370" r="2.1" fill="#fff" fill-opacity="0.75"/><circle cx="112" cy="260" r="2.3" fill="#fff" fill-opacity="0.75"/><circle cx="106" cy="275" r="1.6" fill="#fff" fill-opacity="0.75"/><circle cx="108" cy="288" r="2.4" fill="#fff" fill-opacity="0.75"/><circle cx="114" cy="304" r="2.2" fill="#fff" fill-opacity="0.75"/><circle cx="106" cy="319" r="2.0" fill="#fff" fill-opacity="0.75"/><circle cx="118" cy="330" r="1.7" fill="#fff" fill-opacity="0.75"/><circle cx="105" cy="347" r="2.3" fill="#fff" fill-opacity="0.75"/>
</g></g>
<g transform="translate(380.4,408.6) scale(0.25327,0.25104)">
<clipPath id="cp12"><rect x="0" y="0" width="520" height="480"/></clipPath>
<g fill="none" stroke-width="3.00"><ellipse cx="132" cy="1" rx="38" ry="16" stroke="#111"/></g>
<g clip-path="url(#cp12)" fill="none" stroke-width="3.00" stroke-linejoin="round">
<ellipse cx="131" cy="3" rx="13" ry="5" fill="#555" stroke="#555"/>
<path d="M144 0L144 6L142 8L140 18L144 32L140 50L143 54L143 60L145 64L146 70L148 72L148 92L150 94L149 100" stroke="#1a1a1a"/>
<path d="M149 100L149 104L152 114L150 126L150 134L152 137L153 144L155 146L154 162L156 164L156 176L159 178L158 192L157 200L161 206L170 214L171 216L174 220L176 226L179 228" stroke="#3428dc"/>
<path d="M179 228L182 232L185 238L188 240L198 237L210 238L216 237L218 240L223 240L226 243L232 244L236 252L236 256L238 258L240 268L240 280L238 282L237 284L238 294L236 296L236 302L234 304L234 306L228 312L228 316L226 318L227 320L222 324L222 326L220 326L216 330L211 344L207 348L203 350L201 354L198 368L196 370" stroke="#dc2a2e"/>
<path d="M196 370L196 386L194 388L194 393L192 395L189 404L183 410L180 416L166 432L160 432L158 434L152 435L144 441L140 442L136 440L134 442L128 442L126 444L118 445L108 443L106 445L88 444L86 446L68 444L65 446L56 447L50 446L47 444L34 432L35 428L34 420L35 418L36 408L38 406L37 400L39 398L39 394L42 392L42 389L45 386L50 368L49 364L51 362L51 358L53 356L57 340L59 338L59 334L61 332L62 328L64 326L64 322L65 320L66 316L68 314L68 310L69 308L69 304L71 302L71 298L73 296L73 292L75 290L75 286L77 284L77 280L79 278L79 274L81 272L81 266L84 264L85 258L86 256L85 250L87 248L87 244L89 242L89 236L91 234L91 228L93 226L94 214L96 212L96 206L99 198L98 188L98 186L100 184L100 168L104 166L106 162L102 155L102 148L104 146L106 130L107 126L106 116L106 109L108 104L107 98" stroke="#3428dc"/>
<path d="M107 98L106 94L108 92L108 74L110 72L111 68L112 66L112 60L114 58L114 54L116 52L116 46L117 44L119 26L120 24L120 0" stroke="#1a1a1a"/>
<path d="M120 444L116 445L108 443L106 444L96 442L80 428L72 422L56 406L54 402L52 392L51 380L54 360L63 334L66 322L70 314L71 304L79 284L81 274L83 268L87 264L88 250L91 242L94 231L106 218L110 212L122 206L128 206L130 206L134 209L140 220L148 228L152 240L158 250L161 260L164 264L168 272L173 296L184 329L185 342L187 350L192 364L192 380L192 386L187 402L180 410L178 414L161 430L158 433L152 435L144 441L140 441L136 440L134 441L128 442L126 444L120 444" stroke="#3428dc"/>
<path d="M126 443L114 444L98 441L94 439L82 427L75 418L69 406L67 400L64 380L65 366L70 353L70 348L74 336L80 324L86 308L88 300L88 288L99 268L105 260L116 248L122 246L126 246L130 248L136 254L139 260L144 273L151 284L158 304L163 314L164 326L172 340L177 354L182 376L181 390L179 396L174 405L171 416L167 422L157 432L144 440L142 441L136 440L134 441L128 442L126 443" stroke="#3428dc"/>
<path d="M126 443L114 443L99 440L94 436L81 424L73 412L69 402L67 392L66 376L67 364L77 336L86 320L90 306L94 288L105 268L116 258L122 256L128 257L132 260L147 286L157 310L159 320L175 352L181 376L179 392L172 406L169 416L165 422L155 432L144 439L142 440L136 439L128 441L126 443" stroke="#3428dc"/>
<path d="M126 442L114 443L100 438L82 422L75 412L71 404L68 394L67 376L68 364L77 338L90 317L97 294L106 276L109 272L114 268L120 265L124 265L128 266L132 270L145 290L153 310L155 318L161 326L173 350L180 376L179 386L177 394L165 420L148 436L142 439L136 439L126 442" stroke="#3428dc"/>
<path d="M122 442L114 442L100 437L81 418L75 410L71 400L69 390L68 376L69 366L77 342L81 334L94 314L100 298L112 278L116 274L122 273L126 273L130 276L141 290L149 308L152 318L160 326L169 344L174 356L178 376L177 392L163 420L148 434L142 438L136 439L122 442" stroke="#3428dc"/>
<path d="M126 441L116 441L104 437L96 431L83 418L77 410L73 402L71 394L69 376L71 364L81 336L95 316L99 312L102 302L106 296L116 282L122 280L128 281L134 287L144 306L148 316L156 323L161 330L171 352L177 376L175 392L162 418L151 430L144 436L140 437L134 438L126 441" stroke="#3428dc"/>
<path d="M130 438L118 440L108 437L100 433L88 422L78 410L74 402L71 390L70 376L73 362L79 344L83 336L95 318L103 310L105 304L110 298L118 289L122 287L126 288L130 291L143 314L154 323L159 330L170 352L175 376L175 388L173 394L161 418L144 434L138 437L130 438" stroke="#3428dc"/>
<path d="M124 438L114 437L104 434L96 428L85 416L79 408L75 400L73 392L71 376L73 366L77 354L81 342L84 336L98 316L109 308L110 306L116 300L119 298L122 298L125 298L127 300L130 304L132 304L136 308L142 316L152 323L156 328L161 336L167 350L174 376L173 392L163 412L159 418L148 429L142 433L138 435L124 438Z" fill="#2a1cec" stroke="#2a1cec"/>
<path d="M126 436L115 436L104 432L96 426L88 417L82 410L76 398L74 390L73 376L74 368L78 355L82 344L86 336L91 330L96 322L101 316L116 307L122 305L129 306L133 308L142 318L150 324L156 330L166 351L172 376L172 390L160 414L144 430L136 434L126 436Z" fill="#2a1cec" stroke="#2a1cec"/>
<path d="M132 430L122 432L114 431L106 428L99 424L88 412L83 404L79 394L76 382L76 376L79 364L85 346L90 338L102 320L114 313L122 311L126 311L130 313L147 326L152 332L157 340L161 350L168 376L169 386L168 392L158 410L153 416L144 424L138 428L132 430Z" fill="#2a1cec" stroke="#2a1cec"/>
<path d="M124 426L114 426L108 424L102 421L98 418L90 408L85 400L81 388L79 378L83 364L89 348L102 326L108 321L114 319L122 318L128 319L138 325L145 330L151 338L155 346L159 356L164 376L165 382L164 388L163 394L157 404L152 411L146 417L138 423L132 425L124 426Z" fill="#2a1cec" stroke="#2a1cec"/>
<path d="M130 420L122 421L112 421L106 419L102 416L96 410L91 402L86 392L84 382L83 376L85 370L95 346L106 328L110 326L114 324L122 324L128 325L136 329L142 334L148 342L153 350L161 376L161 386L159 392L153 404L148 410L142 415L136 418L130 420Z" fill="#2a1cec" stroke="#2a1cec"/>
<path d="M128 416L112 416L108 415L104 412L98 406L93 398L89 388L87 380L87 376L89 368L98 348L110 332L118 329L124 329L130 331L136 334L142 340L150 352L157 376L156 390L149 402L140 411L134 415L128 416Z" fill="#2a1cec" stroke="#2a1cec"/>
<path d="M128 412L116 412L110 411L106 408L100 402L97 396L93 388L91 380L91 376L93 368L101 350L112 338L116 335L120 334L126 334L132 337L141 346L147 356L153 376L152 388L147 398L143 404L138 408L128 412Z" fill="#2a1cec" stroke="#2a1cec"/>
<path d="M128 408L118 409L112 407L108 404L103 398L99 392L97 386L95 378L98 364L104 352L108 347L114 342L118 340L122 339L126 339L130 341L139 350L145 360L149 376L148 386L144 396L136 404L128 408Z" fill="#2a1cec" stroke="#2a1cec"/>
<path d="M126 404L120 404L116 403L108 398L101 388L99 378L102 366L107 354L114 347L118 345L122 344L126 345L130 347L137 354L141 362L145 376L144 386L140 394L134 401L126 404Z" fill="#2a1cec" stroke="#2a1cec"/>
<path d="M128 399L120 399L112 396L106 388L103 380L103 374L109 360L114 353L120 349L126 350L133 356L138 364L141 376L140 384L138 390L134 395L128 399Z" fill="#2a1cec" stroke="#2a1cec"/>
<path d="M126 394L120 394L114 391L109 386L107 378L108 370L112 362L116 357L122 355L128 357L132 362L135 368L138 376L137 382L134 388L130 392L126 394Z" fill="#2a1cec" stroke="#2a1cec"/>
<path d="M126 389L120 390L116 388L113 384L111 378L111 374L114 366L118 362L122 360L126 361L129 364L131 368L134 376L132 384L126 389Z" fill="#2a1cec" stroke="#2a1cec"/>
<path d="M124 385L120 385L118 384L116 382L114 378L115 374L117 370L120 366L122 365L126 368L130 376L128 382L124 385Z" fill="#2a1cec" stroke="#2a1cec"/>
<path d="M122 381L120 380L118 376L120 372L122 371L124 372L126 376L124 380L122 381Z" fill="#2a1cec" stroke="#2a1cec"/>
<circle cx="124" cy="290" r="1.7" fill="#fff" fill-opacity="0.75"/><circle cx="123" cy="299" r="1.7" fill="#fff" fill-opacity="0.75"/><circle cx="129" cy="309" r="2.4" fill="#fff" fill-opacity="0.75"/><circle cx="124" cy="320" r="2.1" fill="#fff" fill-opacity="0.75"/><circle cx="123" cy="329" r="1.7" fill="#fff" fill-opacity="0.75"/><circle cx="129" cy="337" r="2.4" fill="#fff" fill-opacity="0.75"/><circle cx="128" cy="349" r="1.8" fill="#fff" fill-opacity="0.75"/>
</g></g>
</svg>
</body></html>
